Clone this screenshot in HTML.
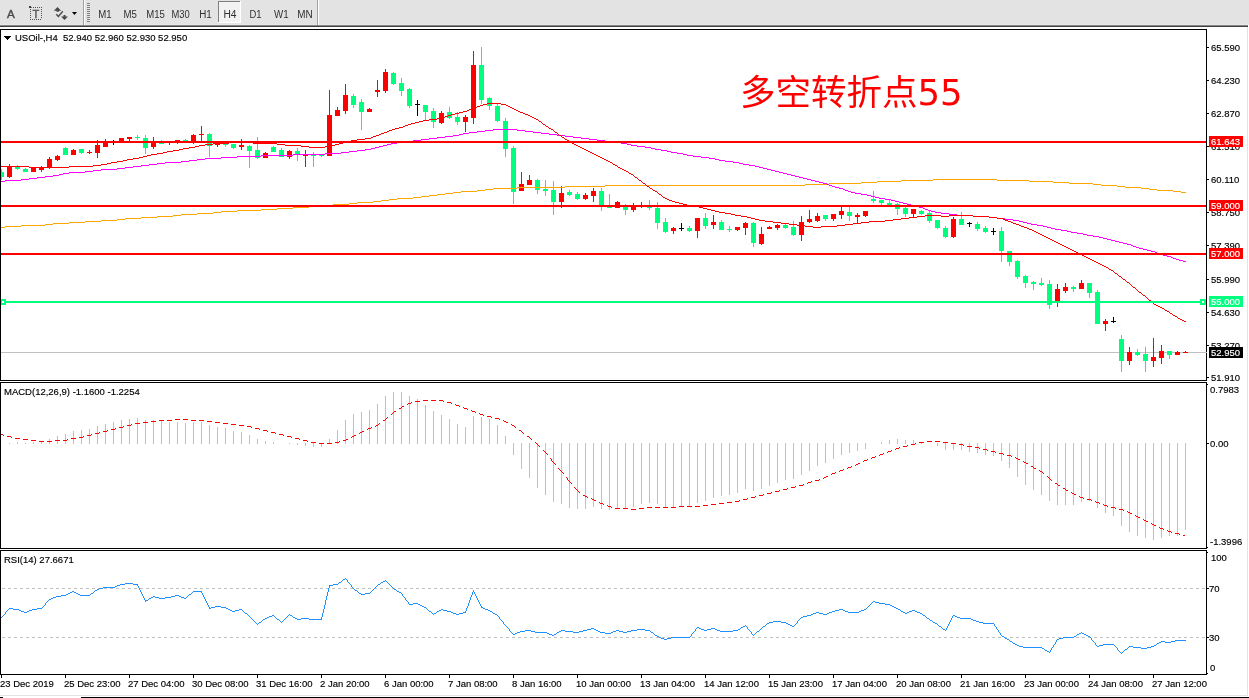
<!DOCTYPE html>
<html><head><meta charset="utf-8"><title>USOil H4</title>
<style>html,body{margin:0;padding:0;background:#fff;}body{width:1249px;height:698px;overflow:hidden;}svg{display:block;font-family:'Liberation Sans', Arial, sans-serif;}</style>
</head><body>
<svg width="1249" height="698" viewBox="0 0 1249 698" shape-rendering="crispEdges">
<rect x="0" y="0" width="1249" height="25" fill="#e3e3e3"/>
<rect x="0" y="24" width="1249" height="1" fill="#e9e9e9"/>
<rect x="0" y="25" width="1248" height="1" fill="#858585"/>
<rect x="0" y="26" width="1248" height="1" fill="#404040"/>
<rect x="83" y="0" width="1" height="25" fill="#a0a0a0"/>
<rect x="84" y="0" width="1" height="25" fill="#ffffff"/>
<rect x="317" y="0" width="1" height="25" fill="#a0a0a0"/>
<rect x="318" y="0" width="1" height="25" fill="#ffffff"/>
<rect x="87" y="3" width="3" height="1" fill="#808080"/>
<rect x="87" y="5" width="3" height="1" fill="#808080"/>
<rect x="87" y="7" width="3" height="1" fill="#808080"/>
<rect x="87" y="9" width="3" height="1" fill="#808080"/>
<rect x="87" y="11" width="3" height="1" fill="#808080"/>
<rect x="87" y="13" width="3" height="1" fill="#808080"/>
<rect x="87" y="15" width="3" height="1" fill="#808080"/>
<rect x="87" y="17" width="3" height="1" fill="#808080"/>
<rect x="87" y="19" width="3" height="1" fill="#808080"/>
<rect x="87" y="21" width="3" height="1" fill="#808080"/>
<rect x="218" y="1" width="23" height="22" fill="#f2f2f2"/>
<rect x="218" y="1" width="22" height="1" fill="#808080"/>
<rect x="218" y="1" width="1" height="22" fill="#808080"/>
<rect x="240" y="1" width="1" height="22" fill="#ffffff"/>
<rect x="218" y="22" width="23" height="1" fill="#ffffff"/>
<text x="7" y="17.8" font-size="11.6" fill="#4a4a4a" text-anchor="start" stroke="#4a4a4a" stroke-width="0.4">A</text>
<rect x="33" y="7" width="1" height="1" fill="#505050"/>
<rect x="35" y="7" width="1" height="1" fill="#505050"/>
<rect x="37" y="7" width="1" height="1" fill="#505050"/>
<rect x="39" y="7" width="1" height="1" fill="#505050"/>
<rect x="41" y="7" width="1" height="1" fill="#505050"/>
<rect x="30" y="19" width="1" height="1" fill="#505050"/>
<rect x="32" y="19" width="1" height="1" fill="#505050"/>
<rect x="34" y="19" width="1" height="1" fill="#505050"/>
<rect x="36" y="19" width="1" height="1" fill="#505050"/>
<rect x="38" y="19" width="1" height="1" fill="#505050"/>
<rect x="40" y="19" width="1" height="1" fill="#505050"/>
<rect x="30" y="9" width="1" height="1" fill="#505050"/>
<rect x="41" y="9" width="1" height="1" fill="#505050"/>
<rect x="30" y="11" width="1" height="1" fill="#505050"/>
<rect x="41" y="11" width="1" height="1" fill="#505050"/>
<rect x="30" y="13" width="1" height="1" fill="#505050"/>
<rect x="41" y="13" width="1" height="1" fill="#505050"/>
<rect x="30" y="15" width="1" height="1" fill="#505050"/>
<rect x="41" y="15" width="1" height="1" fill="#505050"/>
<rect x="30" y="17" width="1" height="1" fill="#505050"/>
<rect x="41" y="17" width="1" height="1" fill="#505050"/>
<rect x="29" y="6" width="2" height="2" fill="#404040"/>
<rect x="31" y="7" width="1" height="1" fill="#707070"/>
<text x="32.4" y="17.9" font-size="11.2" fill="#505050" text-anchor="start" stroke="#505050" stroke-width="0.3">T</text>
<path d="M53.8 10.8 L57.5 7 L61.2 10.8 L59 10.8 L59 11.8 L56.5 11.8 L56.5 10.8 Z" fill="#4a4a4a" shape-rendering="auto"/>
<path d="M56.3 14.2 L58.4 16.5 L62.8 11.3" fill="none" stroke="#4a4a4a" stroke-width="1.4" shape-rendering="auto"/>
<path d="M63.5 15 L65.5 15 L65.5 16.4 L68 16.4 L64.5 20 L61 16.4 L63.5 16.4 Z" fill="#4a4a4a" shape-rendering="auto"/>
<path d="M72 12 L77 12 L74.5 15 Z" fill="#000" shape-rendering="auto"/>
<text x="98.2" y="18" font-size="10" fill="#303030" text-anchor="start" textLength="13.4" lengthAdjust="spacingAndGlyphs">M1</text>
<text x="123.4" y="18" font-size="10" fill="#303030" text-anchor="start" textLength="13.4" lengthAdjust="spacingAndGlyphs">M5</text>
<text x="146.2" y="18" font-size="10" fill="#303030" text-anchor="start" textLength="18.6" lengthAdjust="spacingAndGlyphs">M15</text>
<text x="171.4" y="18" font-size="10" fill="#303030" text-anchor="start" textLength="18.2" lengthAdjust="spacingAndGlyphs">M30</text>
<text x="199.2" y="18" font-size="10" fill="#303030" text-anchor="start" textLength="12.6" lengthAdjust="spacingAndGlyphs">H1</text>
<text x="223.4" y="18" font-size="10" fill="#303030" text-anchor="start" textLength="13.1" lengthAdjust="spacingAndGlyphs">H4</text>
<text x="249.5" y="18" font-size="10" fill="#303030" text-anchor="start" textLength="12.1" lengthAdjust="spacingAndGlyphs">D1</text>
<text x="274" y="18" font-size="10" fill="#303030" text-anchor="start" textLength="14.6" lengthAdjust="spacingAndGlyphs">W1</text>
<text x="297.2" y="18" font-size="10" fill="#303030" text-anchor="start" textLength="15.4" lengthAdjust="spacingAndGlyphs">MN</text>
<rect x="0" y="27" width="1248" height="668" fill="#ffffff"/>
<rect x="1247" y="27" width="1" height="668" fill="#e3e3e3"/>
<rect x="0" y="695" width="1248" height="1" fill="#e3e3e3"/>
<rect x="0" y="697" width="3" height="1" fill="#000"/>
<rect x="81" y="697" width="1168" height="1" fill="#000"/>
<defs><clipPath id="cm"><rect x="1" y="30" width="1205" height="350"/></clipPath><clipPath id="cd"><rect x="1" y="383" width="1205" height="165"/></clipPath><clipPath id="cr"><rect x="1" y="551" width="1205" height="123"/></clipPath></defs>
<g clip-path="url(#cm)">
<rect x="1" y="352" width="1205" height="1" fill="#c0c0c0"/>
<rect x="1" y="169" width="1" height="11" fill="#00ff7f"/>
<rect x="-1" y="172" width="5" height="5" fill="#00ff7f"/>
<rect x="9" y="164" width="1" height="14" fill="#ff0000"/>
<rect x="7" y="166" width="5" height="11" fill="#ff0000"/>
<rect x="17" y="165" width="1" height="5" fill="#00ff7f"/>
<rect x="15" y="167" width="5" height="2" fill="#00ff7f"/>
<rect x="25" y="168" width="1" height="4" fill="#00ff7f"/>
<rect x="23" y="169" width="5" height="3" fill="#00ff7f"/>
<rect x="33" y="167" width="1" height="5" fill="#ff0000"/>
<rect x="31" y="167" width="5" height="5" fill="#ff0000"/>
<rect x="41" y="166" width="1" height="6" fill="#ff0000"/>
<rect x="39" y="168" width="5" height="2" fill="#ff0000"/>
<rect x="49" y="157" width="1" height="12" fill="#ff0000"/>
<rect x="47" y="159" width="5" height="8" fill="#ff0000"/>
<rect x="57" y="155" width="1" height="6" fill="#ff0000"/>
<rect x="55" y="156" width="5" height="4" fill="#ff0000"/>
<rect x="65" y="147" width="1" height="8" fill="#00ff7f"/>
<rect x="63" y="148" width="5" height="7" fill="#00ff7f"/>
<rect x="73" y="149" width="1" height="6" fill="#ff0000"/>
<rect x="71" y="150" width="5" height="5" fill="#ff0000"/>
<rect x="81" y="149" width="1" height="5" fill="#00ff7f"/>
<rect x="79" y="149" width="5" height="4" fill="#00ff7f"/>
<rect x="89" y="150" width="1" height="4" fill="#ff0000"/>
<rect x="87" y="152" width="5" height="1" fill="#ff0000"/>
<rect x="97" y="140" width="1" height="18" fill="#ff0000"/>
<rect x="95" y="145" width="5" height="8" fill="#ff0000"/>
<rect x="105" y="139" width="1" height="8" fill="#ff0000"/>
<rect x="103" y="142" width="5" height="5" fill="#ff0000"/>
<rect x="113" y="140" width="1" height="5" fill="#000"/>
<rect x="111" y="142" width="5" height="1" fill="#000"/>
<rect x="121" y="138" width="1" height="4" fill="#ff0000"/>
<rect x="119" y="138" width="5" height="4" fill="#ff0000"/>
<rect x="129" y="137" width="1" height="4" fill="#ff0000"/>
<rect x="127" y="137" width="5" height="2" fill="#ff0000"/>
<rect x="137" y="135" width="1" height="5" fill="#00ff7f"/>
<rect x="135" y="137" width="5" height="1" fill="#00ff7f"/>
<rect x="145" y="135" width="1" height="19" fill="#00ff7f"/>
<rect x="143" y="138" width="5" height="10" fill="#00ff7f"/>
<rect x="153" y="137" width="1" height="12" fill="#ff0000"/>
<rect x="151" y="142" width="5" height="5" fill="#ff0000"/>
<rect x="161" y="140" width="1" height="4" fill="#00ff7f"/>
<rect x="159" y="143" width="5" height="1" fill="#00ff7f"/>
<rect x="169" y="141" width="1" height="4" fill="#ff0000"/>
<rect x="167" y="141" width="5" height="2" fill="#ff0000"/>
<rect x="177" y="140" width="1" height="4" fill="#ff0000"/>
<rect x="175" y="140" width="5" height="2" fill="#ff0000"/>
<rect x="185" y="139" width="1" height="2" fill="#00ff7f"/>
<rect x="183" y="140" width="5" height="1" fill="#00ff7f"/>
<rect x="193" y="134" width="1" height="10" fill="#ff0000"/>
<rect x="191" y="135" width="5" height="7" fill="#ff0000"/>
<rect x="201" y="126" width="1" height="15" fill="#ff0000"/>
<rect x="199" y="134" width="5" height="1" fill="#ff0000"/>
<rect x="209" y="133" width="1" height="24" fill="#00ff7f"/>
<rect x="207" y="134" width="5" height="12" fill="#00ff7f"/>
<rect x="217" y="141" width="1" height="6" fill="#ff0000"/>
<rect x="215" y="141" width="5" height="4" fill="#ff0000"/>
<rect x="225" y="144" width="1" height="3" fill="#00ff7f"/>
<rect x="223" y="144" width="5" height="1" fill="#00ff7f"/>
<rect x="233" y="144" width="1" height="5" fill="#00ff7f"/>
<rect x="231" y="144" width="5" height="4" fill="#00ff7f"/>
<rect x="241" y="139" width="1" height="11" fill="#ff0000"/>
<rect x="239" y="145" width="5" height="2" fill="#ff0000"/>
<rect x="249" y="145" width="1" height="23" fill="#00ff7f"/>
<rect x="247" y="146" width="5" height="5" fill="#00ff7f"/>
<rect x="257" y="137" width="1" height="22" fill="#00ff7f"/>
<rect x="255" y="150" width="5" height="8" fill="#00ff7f"/>
<rect x="265" y="152" width="1" height="6" fill="#ff0000"/>
<rect x="263" y="153" width="5" height="5" fill="#ff0000"/>
<rect x="273" y="146" width="1" height="6" fill="#00ff7f"/>
<rect x="271" y="147" width="5" height="5" fill="#00ff7f"/>
<rect x="281" y="148" width="1" height="9" fill="#00ff7f"/>
<rect x="279" y="150" width="5" height="7" fill="#00ff7f"/>
<rect x="289" y="150" width="1" height="9" fill="#ff0000"/>
<rect x="287" y="151" width="5" height="6" fill="#ff0000"/>
<rect x="297" y="148" width="1" height="13" fill="#00ff7f"/>
<rect x="295" y="151" width="5" height="4" fill="#00ff7f"/>
<rect x="305" y="150" width="1" height="17" fill="#ff0000"/>
<rect x="303" y="154" width="5" height="2" fill="#ff0000"/>
<rect x="313" y="152" width="1" height="15" fill="#00ff7f"/>
<rect x="311" y="154" width="5" height="2" fill="#00ff7f"/>
<rect x="321" y="155" width="1" height="2" fill="#00ff7f"/>
<rect x="319" y="155" width="5" height="1" fill="#00ff7f"/>
<rect x="329" y="90" width="1" height="66" fill="#ff0000"/>
<rect x="327" y="115" width="5" height="41" fill="#ff0000"/>
<rect x="337" y="107" width="1" height="9" fill="#ff0000"/>
<rect x="335" y="110" width="5" height="6" fill="#ff0000"/>
<rect x="345" y="84" width="1" height="30" fill="#ff0000"/>
<rect x="343" y="95" width="5" height="16" fill="#ff0000"/>
<rect x="353" y="94" width="1" height="14" fill="#00ff7f"/>
<rect x="351" y="96" width="5" height="9" fill="#00ff7f"/>
<rect x="361" y="99" width="1" height="31" fill="#00ff7f"/>
<rect x="359" y="102" width="5" height="10" fill="#00ff7f"/>
<rect x="369" y="108" width="1" height="4" fill="#ff0000"/>
<rect x="367" y="109" width="5" height="3" fill="#ff0000"/>
<rect x="377" y="80" width="1" height="17" fill="#ff0000"/>
<rect x="375" y="90" width="5" height="2" fill="#ff0000"/>
<rect x="385" y="69" width="1" height="24" fill="#ff0000"/>
<rect x="383" y="72" width="5" height="19" fill="#ff0000"/>
<rect x="393" y="72" width="1" height="13" fill="#00ff7f"/>
<rect x="391" y="73" width="5" height="11" fill="#00ff7f"/>
<rect x="401" y="78" width="1" height="18" fill="#00ff7f"/>
<rect x="399" y="83" width="5" height="8" fill="#00ff7f"/>
<rect x="409" y="88" width="1" height="20" fill="#00ff7f"/>
<rect x="407" y="89" width="5" height="17" fill="#00ff7f"/>
<rect x="417" y="100" width="1" height="16" fill="#000"/>
<rect x="415" y="104" width="5" height="1" fill="#000"/>
<rect x="425" y="105" width="1" height="15" fill="#00ff7f"/>
<rect x="423" y="105" width="5" height="7" fill="#00ff7f"/>
<rect x="433" y="108" width="1" height="20" fill="#00ff7f"/>
<rect x="431" y="111" width="5" height="11" fill="#00ff7f"/>
<rect x="441" y="111" width="1" height="13" fill="#ff0000"/>
<rect x="439" y="113" width="5" height="10" fill="#ff0000"/>
<rect x="449" y="107" width="1" height="12" fill="#00ff7f"/>
<rect x="447" y="112" width="5" height="6" fill="#00ff7f"/>
<rect x="457" y="112" width="1" height="13" fill="#00ff7f"/>
<rect x="455" y="117" width="5" height="5" fill="#00ff7f"/>
<rect x="465" y="115" width="1" height="17" fill="#ff0000"/>
<rect x="463" y="117" width="5" height="5" fill="#ff0000"/>
<rect x="473" y="51" width="1" height="73" fill="#ff0000"/>
<rect x="471" y="65" width="5" height="53" fill="#ff0000"/>
<rect x="481" y="47" width="1" height="57" fill="#00ff7f"/>
<rect x="479" y="65" width="5" height="35" fill="#00ff7f"/>
<rect x="489" y="97" width="1" height="13" fill="#00ff7f"/>
<rect x="487" y="98" width="5" height="8" fill="#00ff7f"/>
<rect x="497" y="104" width="1" height="18" fill="#00ff7f"/>
<rect x="495" y="106" width="5" height="15" fill="#00ff7f"/>
<rect x="505" y="118" width="1" height="39" fill="#00ff7f"/>
<rect x="503" y="121" width="5" height="28" fill="#00ff7f"/>
<rect x="513" y="146" width="1" height="58" fill="#00ff7f"/>
<rect x="511" y="148" width="5" height="44" fill="#00ff7f"/>
<rect x="521" y="172" width="1" height="19" fill="#ff0000"/>
<rect x="519" y="184" width="5" height="7" fill="#ff0000"/>
<rect x="529" y="175" width="1" height="10" fill="#ff0000"/>
<rect x="527" y="180" width="5" height="5" fill="#ff0000"/>
<rect x="537" y="179" width="1" height="15" fill="#00ff7f"/>
<rect x="535" y="180" width="5" height="10" fill="#00ff7f"/>
<rect x="545" y="180" width="1" height="16" fill="#00ff7f"/>
<rect x="543" y="189" width="5" height="2" fill="#00ff7f"/>
<rect x="553" y="181" width="1" height="34" fill="#00ff7f"/>
<rect x="551" y="190" width="5" height="12" fill="#00ff7f"/>
<rect x="561" y="186" width="1" height="22" fill="#ff0000"/>
<rect x="559" y="193" width="5" height="9" fill="#ff0000"/>
<rect x="569" y="190" width="1" height="6" fill="#00ff7f"/>
<rect x="567" y="192" width="5" height="3" fill="#00ff7f"/>
<rect x="577" y="192" width="1" height="8" fill="#00ff7f"/>
<rect x="575" y="194" width="5" height="5" fill="#00ff7f"/>
<rect x="585" y="193" width="1" height="7" fill="#ff0000"/>
<rect x="583" y="195" width="5" height="4" fill="#ff0000"/>
<rect x="593" y="188" width="1" height="14" fill="#ff0000"/>
<rect x="591" y="191" width="5" height="5" fill="#ff0000"/>
<rect x="601" y="188" width="1" height="23" fill="#00ff7f"/>
<rect x="599" y="191" width="5" height="14" fill="#00ff7f"/>
<rect x="609" y="194" width="1" height="14" fill="#00ff7f"/>
<rect x="607" y="205" width="5" height="3" fill="#00ff7f"/>
<rect x="617" y="201" width="1" height="7" fill="#ff0000"/>
<rect x="615" y="202" width="5" height="6" fill="#ff0000"/>
<rect x="625" y="204" width="1" height="11" fill="#00ff7f"/>
<rect x="623" y="207" width="5" height="3" fill="#00ff7f"/>
<rect x="633" y="203" width="1" height="9" fill="#ff0000"/>
<rect x="631" y="206" width="5" height="4" fill="#ff0000"/>
<rect x="641" y="202" width="1" height="6" fill="#ff0000"/>
<rect x="639" y="206" width="5" height="1" fill="#ff0000"/>
<rect x="649" y="200" width="1" height="10" fill="#00ff7f"/>
<rect x="647" y="206" width="5" height="2" fill="#00ff7f"/>
<rect x="657" y="202" width="1" height="27" fill="#00ff7f"/>
<rect x="655" y="208" width="5" height="15" fill="#00ff7f"/>
<rect x="665" y="218" width="1" height="15" fill="#00ff7f"/>
<rect x="663" y="222" width="5" height="10" fill="#00ff7f"/>
<rect x="673" y="227" width="1" height="7" fill="#ff0000"/>
<rect x="671" y="228" width="5" height="3" fill="#ff0000"/>
<rect x="681" y="223" width="1" height="8" fill="#000"/>
<rect x="679" y="228" width="5" height="1" fill="#000"/>
<rect x="689" y="226" width="1" height="6" fill="#00ff7f"/>
<rect x="687" y="228" width="5" height="3" fill="#00ff7f"/>
<rect x="697" y="218" width="1" height="20" fill="#ff0000"/>
<rect x="695" y="218" width="5" height="13" fill="#ff0000"/>
<rect x="705" y="213" width="1" height="16" fill="#00ff7f"/>
<rect x="703" y="218" width="5" height="8" fill="#00ff7f"/>
<rect x="713" y="215" width="1" height="14" fill="#ff0000"/>
<rect x="711" y="222" width="5" height="3" fill="#ff0000"/>
<rect x="721" y="220" width="1" height="10" fill="#00ff7f"/>
<rect x="719" y="222" width="5" height="8" fill="#00ff7f"/>
<rect x="729" y="226" width="1" height="6" fill="#00ff7f"/>
<rect x="727" y="229" width="5" height="1" fill="#00ff7f"/>
<rect x="737" y="227" width="1" height="4" fill="#ff0000"/>
<rect x="735" y="227" width="5" height="3" fill="#ff0000"/>
<rect x="745" y="222" width="1" height="13" fill="#ff0000"/>
<rect x="743" y="223" width="5" height="5" fill="#ff0000"/>
<rect x="753" y="222" width="1" height="25" fill="#00ff7f"/>
<rect x="751" y="223" width="5" height="20" fill="#00ff7f"/>
<rect x="761" y="227" width="1" height="18" fill="#ff0000"/>
<rect x="759" y="234" width="5" height="10" fill="#ff0000"/>
<rect x="769" y="226" width="1" height="3" fill="#ff0000"/>
<rect x="767" y="227" width="5" height="2" fill="#ff0000"/>
<rect x="777" y="224" width="1" height="6" fill="#ff0000"/>
<rect x="775" y="225" width="5" height="3" fill="#ff0000"/>
<rect x="785" y="224" width="1" height="5" fill="#00ff7f"/>
<rect x="783" y="225" width="5" height="3" fill="#00ff7f"/>
<rect x="793" y="221" width="1" height="15" fill="#00ff7f"/>
<rect x="791" y="227" width="5" height="8" fill="#00ff7f"/>
<rect x="801" y="216" width="1" height="25" fill="#ff0000"/>
<rect x="799" y="222" width="5" height="13" fill="#ff0000"/>
<rect x="809" y="210" width="1" height="13" fill="#ff0000"/>
<rect x="807" y="219" width="5" height="3" fill="#ff0000"/>
<rect x="817" y="213" width="1" height="9" fill="#ff0000"/>
<rect x="815" y="216" width="5" height="5" fill="#ff0000"/>
<rect x="825" y="215" width="1" height="6" fill="#00ff7f"/>
<rect x="823" y="215" width="5" height="4" fill="#00ff7f"/>
<rect x="833" y="214" width="1" height="7" fill="#ff0000"/>
<rect x="831" y="214" width="5" height="5" fill="#ff0000"/>
<rect x="841" y="207" width="1" height="12" fill="#ff0000"/>
<rect x="839" y="211" width="5" height="4" fill="#ff0000"/>
<rect x="849" y="207" width="1" height="14" fill="#00ff7f"/>
<rect x="847" y="212" width="5" height="4" fill="#00ff7f"/>
<rect x="857" y="213" width="1" height="10" fill="#ff0000"/>
<rect x="855" y="215" width="5" height="2" fill="#ff0000"/>
<rect x="865" y="211" width="1" height="6" fill="#ff0000"/>
<rect x="863" y="211" width="5" height="5" fill="#ff0000"/>
<rect x="873" y="191" width="1" height="12" fill="#00ff7f"/>
<rect x="871" y="199" width="5" height="2" fill="#00ff7f"/>
<rect x="881" y="200" width="1" height="5" fill="#00ff7f"/>
<rect x="879" y="200" width="5" height="3" fill="#00ff7f"/>
<rect x="889" y="200" width="1" height="5" fill="#00ff7f"/>
<rect x="887" y="203" width="5" height="2" fill="#00ff7f"/>
<rect x="897" y="203" width="1" height="12" fill="#00ff7f"/>
<rect x="895" y="204" width="5" height="5" fill="#00ff7f"/>
<rect x="905" y="207" width="1" height="10" fill="#00ff7f"/>
<rect x="903" y="208" width="5" height="6" fill="#00ff7f"/>
<rect x="913" y="209" width="1" height="9" fill="#ff0000"/>
<rect x="911" y="209" width="5" height="5" fill="#ff0000"/>
<rect x="921" y="210" width="1" height="5" fill="#00ff7f"/>
<rect x="919" y="211" width="5" height="3" fill="#00ff7f"/>
<rect x="929" y="211" width="1" height="12" fill="#00ff7f"/>
<rect x="927" y="213" width="5" height="8" fill="#00ff7f"/>
<rect x="937" y="220" width="1" height="9" fill="#00ff7f"/>
<rect x="935" y="220" width="5" height="8" fill="#00ff7f"/>
<rect x="945" y="226" width="1" height="12" fill="#00ff7f"/>
<rect x="943" y="228" width="5" height="9" fill="#00ff7f"/>
<rect x="953" y="217" width="1" height="21" fill="#ff0000"/>
<rect x="951" y="219" width="5" height="18" fill="#ff0000"/>
<rect x="961" y="212" width="1" height="13" fill="#00ff7f"/>
<rect x="959" y="219" width="5" height="6" fill="#00ff7f"/>
<rect x="969" y="222" width="1" height="5" fill="#000"/>
<rect x="967" y="223" width="5" height="1" fill="#000"/>
<rect x="977" y="222" width="1" height="9" fill="#00ff7f"/>
<rect x="975" y="224" width="5" height="5" fill="#00ff7f"/>
<rect x="985" y="226" width="1" height="7" fill="#00ff7f"/>
<rect x="983" y="228" width="5" height="4" fill="#00ff7f"/>
<rect x="993" y="228" width="1" height="7" fill="#000"/>
<rect x="991" y="231" width="5" height="1" fill="#000"/>
<rect x="1001" y="227" width="1" height="35" fill="#00ff7f"/>
<rect x="999" y="231" width="5" height="20" fill="#00ff7f"/>
<rect x="1009" y="251" width="1" height="15" fill="#00ff7f"/>
<rect x="1007" y="251" width="5" height="11" fill="#00ff7f"/>
<rect x="1017" y="260" width="1" height="19" fill="#00ff7f"/>
<rect x="1015" y="261" width="5" height="16" fill="#00ff7f"/>
<rect x="1025" y="275" width="1" height="13" fill="#00ff7f"/>
<rect x="1023" y="276" width="5" height="7" fill="#00ff7f"/>
<rect x="1033" y="281" width="1" height="9" fill="#00ff7f"/>
<rect x="1031" y="282" width="5" height="2" fill="#00ff7f"/>
<rect x="1041" y="278" width="1" height="8" fill="#00ff7f"/>
<rect x="1039" y="283" width="5" height="2" fill="#00ff7f"/>
<rect x="1049" y="280" width="1" height="29" fill="#00ff7f"/>
<rect x="1047" y="284" width="5" height="21" fill="#00ff7f"/>
<rect x="1057" y="284" width="1" height="23" fill="#ff0000"/>
<rect x="1055" y="289" width="5" height="12" fill="#ff0000"/>
<rect x="1065" y="283" width="1" height="10" fill="#ff0000"/>
<rect x="1063" y="287" width="5" height="4" fill="#ff0000"/>
<rect x="1073" y="286" width="1" height="6" fill="#00ff7f"/>
<rect x="1071" y="287" width="5" height="2" fill="#00ff7f"/>
<rect x="1081" y="280" width="1" height="9" fill="#ff0000"/>
<rect x="1079" y="283" width="5" height="6" fill="#ff0000"/>
<rect x="1089" y="283" width="1" height="15" fill="#00ff7f"/>
<rect x="1087" y="283" width="5" height="10" fill="#00ff7f"/>
<rect x="1097" y="290" width="1" height="34" fill="#00ff7f"/>
<rect x="1095" y="292" width="5" height="32" fill="#00ff7f"/>
<rect x="1105" y="319" width="1" height="12" fill="#ff0000"/>
<rect x="1103" y="321" width="5" height="3" fill="#ff0000"/>
<rect x="1113" y="317" width="1" height="6" fill="#000"/>
<rect x="1111" y="321" width="5" height="1" fill="#000"/>
<rect x="1121" y="335" width="1" height="37" fill="#00ff7f"/>
<rect x="1119" y="339" width="5" height="22" fill="#00ff7f"/>
<rect x="1129" y="347" width="1" height="18" fill="#ff0000"/>
<rect x="1127" y="352" width="5" height="9" fill="#ff0000"/>
<rect x="1137" y="349" width="1" height="7" fill="#00ff7f"/>
<rect x="1135" y="352" width="5" height="3" fill="#00ff7f"/>
<rect x="1145" y="347" width="1" height="25" fill="#00ff7f"/>
<rect x="1143" y="354" width="5" height="7" fill="#00ff7f"/>
<rect x="1153" y="338" width="1" height="29" fill="#ff0000"/>
<rect x="1151" y="357" width="5" height="4" fill="#ff0000"/>
<rect x="1161" y="345" width="1" height="19" fill="#ff0000"/>
<rect x="1159" y="351" width="5" height="7" fill="#ff0000"/>
<rect x="1169" y="351" width="1" height="8" fill="#00ff7f"/>
<rect x="1167" y="351" width="5" height="4" fill="#00ff7f"/>
<rect x="1177" y="351" width="1" height="4" fill="#ff0000"/>
<rect x="1175" y="352" width="5" height="3" fill="#ff0000"/>
<rect x="1185" y="351" width="1" height="2" fill="#ff0000"/>
<rect x="1183" y="352" width="5" height="1" fill="#ff0000"/>
<rect x="157" y="216" width="16" height="1" fill="#ffa500"/>
<rect x="477" y="190" width="8" height="1" fill="#ffa500"/>
<rect x="1157" y="190" width="16" height="1" fill="#ffa500"/>
<rect x="461" y="191" width="16" height="1" fill="#ffa500"/>
<rect x="1173" y="191" width="8" height="1" fill="#ffa500"/>
<rect x="197" y="213" width="16" height="1" fill="#ffa500"/>
<rect x="829" y="183" width="32" height="1" fill="#ffa500"/>
<rect x="1069" y="183" width="24" height="1" fill="#ffa500"/>
<rect x="237" y="210" width="24" height="1" fill="#ffa500"/>
<rect x="117" y="219" width="8" height="1" fill="#ffa500"/>
<rect x="605" y="185" width="200" height="1" fill="#ffa500"/>
<rect x="1101" y="185" width="16" height="1" fill="#ffa500"/>
<rect x="933" y="179" width="64" height="1" fill="#ffa500"/>
<rect x="69" y="222" width="16" height="1" fill="#ffa500"/>
<rect x="221" y="211" width="16" height="1" fill="#ffa500"/>
<rect x="901" y="180" width="32" height="1" fill="#ffa500"/>
<rect x="997" y="180" width="32" height="1" fill="#ffa500"/>
<rect x="485" y="189" width="8" height="1" fill="#ffa500"/>
<rect x="1149" y="189" width="8" height="1" fill="#ffa500"/>
<rect x="21" y="225" width="24" height="1" fill="#ffa500"/>
<rect x="181" y="214" width="16" height="1" fill="#ffa500"/>
<rect x="861" y="182" width="16" height="1" fill="#ffa500"/>
<rect x="1053" y="182" width="16" height="1" fill="#ffa500"/>
<rect x="53" y="223" width="16" height="1" fill="#ffa500"/>
<rect x="517" y="187" width="48" height="1" fill="#ffa500"/>
<rect x="1125" y="187" width="16" height="1" fill="#ffa500"/>
<rect x="877" y="181" width="24" height="1" fill="#ffa500"/>
<rect x="1029" y="181" width="24" height="1" fill="#ffa500"/>
<rect x="309" y="206" width="16" height="1" fill="#ffa500"/>
<rect x="5" y="226" width="16" height="1" fill="#ffa500"/>
<rect x="261" y="209" width="16" height="1" fill="#ffa500"/>
<rect x="421" y="196" width="8" height="1" fill="#ffa500"/>
<rect x="125" y="218" width="16" height="1" fill="#ffa500"/>
<rect x="565" y="186" width="40" height="1" fill="#ffa500"/>
<rect x="1117" y="186" width="8" height="1" fill="#ffa500"/>
<rect x="85" y="221" width="16" height="1" fill="#ffa500"/>
<rect x="805" y="184" width="24" height="1" fill="#ffa500"/>
<rect x="1093" y="184" width="8" height="1" fill="#ffa500"/>
<rect x="413" y="197" width="8" height="1" fill="#ffa500"/>
<rect x="381" y="200" width="8" height="1" fill="#ffa500"/>
<rect x="397" y="198" width="16" height="1" fill="#ffa500"/>
<rect x="493" y="188" width="24" height="1" fill="#ffa500"/>
<rect x="1141" y="188" width="8" height="1" fill="#ffa500"/>
<rect x="293" y="207" width="16" height="1" fill="#ffa500"/>
<rect x="389" y="199" width="8" height="1" fill="#ffa500"/>
<rect x="325" y="205" width="8" height="1" fill="#ffa500"/>
<rect x="357" y="202" width="16" height="1" fill="#ffa500"/>
<rect x="277" y="208" width="16" height="1" fill="#ffa500"/>
<rect x="429" y="195" width="8" height="1" fill="#ffa500"/>
<rect x="141" y="217" width="16" height="1" fill="#ffa500"/>
<rect x="101" y="220" width="16" height="1" fill="#ffa500"/>
<rect x="333" y="204" width="16" height="1" fill="#ffa500"/>
<rect x="437" y="194" width="8" height="1" fill="#ffa500"/>
<rect x="373" y="201" width="8" height="1" fill="#ffa500"/>
<rect x="349" y="203" width="8" height="1" fill="#ffa500"/>
<rect x="213" y="212" width="8" height="1" fill="#ffa500"/>
<rect x="173" y="215" width="8" height="1" fill="#ffa500"/>
<rect x="445" y="193" width="8" height="1" fill="#ffa500"/>
<rect x="45" y="224" width="8" height="1" fill="#ffa500"/>
<rect x="453" y="192" width="8" height="1" fill="#ffa500"/>
<rect x="1181" y="192" width="5" height="1" fill="#ffa500"/>
<rect x="1" y="227" width="4" height="1" fill="#ffa500"/>
<rect x="261" y="155" width="32" height="1" fill="#ff00ff"/>
<rect x="687" y="155" width="6" height="1" fill="#ff00ff"/>
<rect x="197" y="159" width="8" height="1" fill="#ff00ff"/>
<rect x="715" y="159" width="4" height="1" fill="#ff00ff"/>
<rect x="835" y="187" width="4" height="1" fill="#ff00ff"/>
<rect x="1" y="181" width="4" height="1" fill="#ff00ff"/>
<rect x="815" y="181" width="4" height="1" fill="#ff00ff"/>
<rect x="37" y="177" width="8" height="1" fill="#ff00ff"/>
<rect x="799" y="177" width="4" height="1" fill="#ff00ff"/>
<rect x="1005" y="219" width="8" height="1" fill="#ff00ff"/>
<rect x="325" y="153" width="16" height="1" fill="#ff00ff"/>
<rect x="677" y="153" width="6" height="1" fill="#ff00ff"/>
<rect x="5" y="180" width="16" height="1" fill="#ff00ff"/>
<rect x="811" y="180" width="4" height="1" fill="#ff00ff"/>
<rect x="405" y="141" width="8" height="1" fill="#ff00ff"/>
<rect x="605" y="141" width="8" height="1" fill="#ff00ff"/>
<rect x="357" y="150" width="8" height="1" fill="#ff00ff"/>
<rect x="661" y="150" width="6" height="1" fill="#ff00ff"/>
<rect x="1167" y="256" width="4" height="1" fill="#ff00ff"/>
<rect x="379" y="146" width="4" height="1" fill="#ff00ff"/>
<rect x="637" y="146" width="8" height="1" fill="#ff00ff"/>
<rect x="221" y="157" width="16" height="1" fill="#ff00ff"/>
<rect x="701" y="157" width="8" height="1" fill="#ff00ff"/>
<rect x="117" y="168" width="8" height="1" fill="#ff00ff"/>
<rect x="763" y="168" width="4" height="1" fill="#ff00ff"/>
<rect x="413" y="140" width="8" height="1" fill="#ff00ff"/>
<rect x="597" y="140" width="8" height="1" fill="#ff00ff"/>
<rect x="237" y="156" width="24" height="1" fill="#ff00ff"/>
<rect x="693" y="156" width="8" height="1" fill="#ff00ff"/>
<rect x="493" y="129" width="24" height="1" fill="#ff00ff"/>
<rect x="341" y="152" width="8" height="1" fill="#ff00ff"/>
<rect x="671" y="152" width="6" height="1" fill="#ff00ff"/>
<rect x="165" y="162" width="16" height="1" fill="#ff00ff"/>
<rect x="733" y="162" width="6" height="1" fill="#ff00ff"/>
<rect x="149" y="164" width="8" height="1" fill="#ff00ff"/>
<rect x="743" y="164" width="6" height="1" fill="#ff00ff"/>
<rect x="59" y="174" width="4" height="1" fill="#ff00ff"/>
<rect x="787" y="174" width="4" height="1" fill="#ff00ff"/>
<rect x="85" y="171" width="8" height="1" fill="#ff00ff"/>
<rect x="775" y="171" width="4" height="1" fill="#ff00ff"/>
<rect x="205" y="158" width="16" height="1" fill="#ff00ff"/>
<rect x="709" y="158" width="6" height="1" fill="#ff00ff"/>
<rect x="911" y="205" width="4" height="1" fill="#ff00ff"/>
<rect x="957" y="215" width="16" height="1" fill="#ff00ff"/>
<rect x="989" y="217" width="8" height="1" fill="#ff00ff"/>
<rect x="1171" y="257" width="2" height="1" fill="#ff00ff"/>
<rect x="1143" y="249" width="4" height="1" fill="#ff00ff"/>
<rect x="391" y="143" width="6" height="1" fill="#ff00ff"/>
<rect x="621" y="143" width="6" height="1" fill="#ff00ff"/>
<rect x="485" y="130" width="8" height="1" fill="#ff00ff"/>
<rect x="517" y="130" width="8" height="1" fill="#ff00ff"/>
<rect x="69" y="172" width="16" height="1" fill="#ff00ff"/>
<rect x="779" y="172" width="4" height="1" fill="#ff00ff"/>
<rect x="375" y="147" width="4" height="1" fill="#ff00ff"/>
<rect x="645" y="147" width="6" height="1" fill="#ff00ff"/>
<rect x="141" y="165" width="8" height="1" fill="#ff00ff"/>
<rect x="749" y="165" width="6" height="1" fill="#ff00ff"/>
<rect x="445" y="136" width="8" height="1" fill="#ff00ff"/>
<rect x="565" y="136" width="8" height="1" fill="#ff00ff"/>
<rect x="101" y="169" width="16" height="1" fill="#ff00ff"/>
<rect x="767" y="169" width="4" height="1" fill="#ff00ff"/>
<rect x="469" y="132" width="8" height="1" fill="#ff00ff"/>
<rect x="533" y="132" width="8" height="1" fill="#ff00ff"/>
<rect x="973" y="216" width="16" height="1" fill="#ff00ff"/>
<rect x="845" y="190" width="3" height="1" fill="#ff00ff"/>
<rect x="63" y="173" width="6" height="1" fill="#ff00ff"/>
<rect x="783" y="173" width="4" height="1" fill="#ff00ff"/>
<rect x="915" y="206" width="4" height="1" fill="#ff00ff"/>
<rect x="1061" y="230" width="6" height="1" fill="#ff00ff"/>
<rect x="1031" y="224" width="6" height="1" fill="#ff00ff"/>
<rect x="293" y="154" width="32" height="1" fill="#ff00ff"/>
<rect x="683" y="154" width="4" height="1" fill="#ff00ff"/>
<rect x="157" y="163" width="8" height="1" fill="#ff00ff"/>
<rect x="739" y="163" width="4" height="1" fill="#ff00ff"/>
<rect x="1093" y="236" width="6" height="1" fill="#ff00ff"/>
<rect x="437" y="137" width="8" height="1" fill="#ff00ff"/>
<rect x="573" y="137" width="8" height="1" fill="#ff00ff"/>
<rect x="189" y="160" width="8" height="1" fill="#ff00ff"/>
<rect x="719" y="160" width="6" height="1" fill="#ff00ff"/>
<rect x="387" y="144" width="4" height="1" fill="#ff00ff"/>
<rect x="627" y="144" width="4" height="1" fill="#ff00ff"/>
<rect x="463" y="133" width="6" height="1" fill="#ff00ff"/>
<rect x="541" y="133" width="8" height="1" fill="#ff00ff"/>
<rect x="365" y="149" width="6" height="1" fill="#ff00ff"/>
<rect x="655" y="149" width="6" height="1" fill="#ff00ff"/>
<rect x="1115" y="241" width="4" height="1" fill="#ff00ff"/>
<rect x="429" y="138" width="8" height="1" fill="#ff00ff"/>
<rect x="581" y="138" width="8" height="1" fill="#ff00ff"/>
<rect x="855" y="193" width="6" height="1" fill="#ff00ff"/>
<rect x="1067" y="231" width="4" height="1" fill="#ff00ff"/>
<rect x="453" y="135" width="6" height="1" fill="#ff00ff"/>
<rect x="557" y="135" width="8" height="1" fill="#ff00ff"/>
<rect x="125" y="167" width="8" height="1" fill="#ff00ff"/>
<rect x="759" y="167" width="4" height="1" fill="#ff00ff"/>
<rect x="1087" y="235" width="6" height="1" fill="#ff00ff"/>
<rect x="1173" y="258" width="3" height="1" fill="#ff00ff"/>
<rect x="93" y="170" width="8" height="1" fill="#ff00ff"/>
<rect x="771" y="170" width="4" height="1" fill="#ff00ff"/>
<rect x="459" y="134" width="4" height="1" fill="#ff00ff"/>
<rect x="549" y="134" width="8" height="1" fill="#ff00ff"/>
<rect x="879" y="198" width="6" height="1" fill="#ff00ff"/>
<rect x="839" y="188" width="4" height="1" fill="#ff00ff"/>
<rect x="29" y="178" width="8" height="1" fill="#ff00ff"/>
<rect x="803" y="178" width="4" height="1" fill="#ff00ff"/>
<rect x="891" y="200" width="4" height="1" fill="#ff00ff"/>
<rect x="421" y="139" width="8" height="1" fill="#ff00ff"/>
<rect x="589" y="139" width="8" height="1" fill="#ff00ff"/>
<rect x="1119" y="242" width="4" height="1" fill="#ff00ff"/>
<rect x="1176" y="259" width="3" height="1" fill="#ff00ff"/>
<rect x="1047" y="227" width="4" height="1" fill="#ff00ff"/>
<rect x="928" y="210" width="3" height="1" fill="#ff00ff"/>
<rect x="935" y="212" width="6" height="1" fill="#ff00ff"/>
<rect x="133" y="166" width="8" height="1" fill="#ff00ff"/>
<rect x="755" y="166" width="4" height="1" fill="#ff00ff"/>
<rect x="45" y="176" width="8" height="1" fill="#ff00ff"/>
<rect x="795" y="176" width="4" height="1" fill="#ff00ff"/>
<rect x="349" y="151" width="8" height="1" fill="#ff00ff"/>
<rect x="667" y="151" width="4" height="1" fill="#ff00ff"/>
<rect x="919" y="207" width="4" height="1" fill="#ff00ff"/>
<rect x="1013" y="220" width="6" height="1" fill="#ff00ff"/>
<rect x="941" y="213" width="8" height="1" fill="#ff00ff"/>
<rect x="181" y="161" width="8" height="1" fill="#ff00ff"/>
<rect x="725" y="161" width="8" height="1" fill="#ff00ff"/>
<rect x="1151" y="251" width="4" height="1" fill="#ff00ff"/>
<rect x="1123" y="243" width="4" height="1" fill="#ff00ff"/>
<rect x="383" y="145" width="4" height="1" fill="#ff00ff"/>
<rect x="631" y="145" width="6" height="1" fill="#ff00ff"/>
<rect x="477" y="131" width="8" height="1" fill="#ff00ff"/>
<rect x="525" y="131" width="8" height="1" fill="#ff00ff"/>
<rect x="861" y="194" width="6" height="1" fill="#ff00ff"/>
<rect x="949" y="214" width="8" height="1" fill="#ff00ff"/>
<rect x="923" y="208" width="2" height="1" fill="#ff00ff"/>
<rect x="1051" y="228" width="4" height="1" fill="#ff00ff"/>
<rect x="925" y="209" width="3" height="1" fill="#ff00ff"/>
<rect x="885" y="199" width="6" height="1" fill="#ff00ff"/>
<rect x="867" y="195" width="4" height="1" fill="#ff00ff"/>
<rect x="895" y="201" width="4" height="1" fill="#ff00ff"/>
<rect x="848" y="191" width="3" height="1" fill="#ff00ff"/>
<rect x="1055" y="229" width="6" height="1" fill="#ff00ff"/>
<rect x="1179" y="260" width="4" height="1" fill="#ff00ff"/>
<rect x="1107" y="239" width="4" height="1" fill="#ff00ff"/>
<rect x="899" y="202" width="4" height="1" fill="#ff00ff"/>
<rect x="1183" y="261" width="3" height="1" fill="#ff00ff"/>
<rect x="1037" y="225" width="6" height="1" fill="#ff00ff"/>
<rect x="1019" y="221" width="4" height="1" fill="#ff00ff"/>
<rect x="1099" y="237" width="4" height="1" fill="#ff00ff"/>
<rect x="397" y="142" width="8" height="1" fill="#ff00ff"/>
<rect x="613" y="142" width="8" height="1" fill="#ff00ff"/>
<rect x="1103" y="238" width="4" height="1" fill="#ff00ff"/>
<rect x="931" y="211" width="4" height="1" fill="#ff00ff"/>
<rect x="1157" y="253" width="3" height="1" fill="#ff00ff"/>
<rect x="371" y="148" width="4" height="1" fill="#ff00ff"/>
<rect x="651" y="148" width="4" height="1" fill="#ff00ff"/>
<rect x="871" y="196" width="4" height="1" fill="#ff00ff"/>
<rect x="851" y="192" width="4" height="1" fill="#ff00ff"/>
<rect x="903" y="203" width="4" height="1" fill="#ff00ff"/>
<rect x="1071" y="232" width="6" height="1" fill="#ff00ff"/>
<rect x="827" y="184" width="2" height="1" fill="#ff00ff"/>
<rect x="907" y="204" width="4" height="1" fill="#ff00ff"/>
<rect x="1023" y="222" width="4" height="1" fill="#ff00ff"/>
<rect x="1127" y="244" width="4" height="1" fill="#ff00ff"/>
<rect x="829" y="185" width="3" height="1" fill="#ff00ff"/>
<rect x="1131" y="245" width="2" height="1" fill="#ff00ff"/>
<rect x="819" y="182" width="4" height="1" fill="#ff00ff"/>
<rect x="1111" y="240" width="4" height="1" fill="#ff00ff"/>
<rect x="823" y="183" width="4" height="1" fill="#ff00ff"/>
<rect x="53" y="175" width="6" height="1" fill="#ff00ff"/>
<rect x="791" y="175" width="4" height="1" fill="#ff00ff"/>
<rect x="1139" y="248" width="4" height="1" fill="#ff00ff"/>
<rect x="1160" y="254" width="3" height="1" fill="#ff00ff"/>
<rect x="21" y="179" width="8" height="1" fill="#ff00ff"/>
<rect x="807" y="179" width="4" height="1" fill="#ff00ff"/>
<rect x="1043" y="226" width="4" height="1" fill="#ff00ff"/>
<rect x="1133" y="246" width="3" height="1" fill="#ff00ff"/>
<rect x="1077" y="233" width="6" height="1" fill="#ff00ff"/>
<rect x="1136" y="247" width="3" height="1" fill="#ff00ff"/>
<rect x="997" y="218" width="8" height="1" fill="#ff00ff"/>
<rect x="1163" y="255" width="4" height="1" fill="#ff00ff"/>
<rect x="1027" y="223" width="4" height="1" fill="#ff00ff"/>
<rect x="1083" y="234" width="4" height="1" fill="#ff00ff"/>
<rect x="875" y="197" width="4" height="1" fill="#ff00ff"/>
<rect x="1147" y="250" width="4" height="1" fill="#ff00ff"/>
<rect x="843" y="189" width="2" height="1" fill="#ff00ff"/>
<rect x="1155" y="252" width="2" height="1" fill="#ff00ff"/>
<rect x="832" y="186" width="3" height="1" fill="#ff00ff"/>
<rect x="357" y="139" width="8" height="1" fill="#ff0000"/>
<rect x="565" y="139" width="2" height="1" fill="#ff0000"/>
<rect x="483" y="104" width="4" height="1" fill="#ff0000"/>
<rect x="501" y="104" width="5" height="1" fill="#ff0000"/>
<rect x="725" y="213" width="6" height="1" fill="#ff0000"/>
<rect x="205" y="144" width="8" height="1" fill="#ff0000"/>
<rect x="277" y="144" width="8" height="1" fill="#ff0000"/>
<rect x="335" y="144" width="4" height="1" fill="#ff0000"/>
<rect x="574" y="144" width="2" height="1" fill="#ff0000"/>
<rect x="707" y="209" width="4" height="1" fill="#ff0000"/>
<rect x="167" y="151" width="6" height="1" fill="#ff0000"/>
<rect x="588" y="151" width="2" height="1" fill="#ff0000"/>
<rect x="797" y="225" width="8" height="1" fill="#ff0000"/>
<rect x="837" y="225" width="8" height="1" fill="#ff0000"/>
<rect x="1019" y="225" width="2" height="1" fill="#ff0000"/>
<rect x="133" y="158" width="6" height="1" fill="#ff0000"/>
<rect x="602" y="158" width="2" height="1" fill="#ff0000"/>
<rect x="789" y="224" width="8" height="1" fill="#ff0000"/>
<rect x="845" y="224" width="8" height="1" fill="#ff0000"/>
<rect x="1016" y="224" width="3" height="1" fill="#ff0000"/>
<rect x="429" y="119" width="8" height="1" fill="#ff0000"/>
<rect x="536" y="119" width="2" height="1" fill="#ff0000"/>
<rect x="448" y="115" width="3" height="1" fill="#ff0000"/>
<rect x="528" y="115" width="2" height="1" fill="#ff0000"/>
<rect x="747" y="217" width="4" height="1" fill="#ff0000"/>
<rect x="909" y="217" width="8" height="1" fill="#ff0000"/>
<rect x="989" y="217" width="8" height="1" fill="#ff0000"/>
<rect x="189" y="147" width="6" height="1" fill="#ff0000"/>
<rect x="309" y="147" width="16" height="1" fill="#ff0000"/>
<rect x="580" y="147" width="2" height="1" fill="#ff0000"/>
<rect x="467" y="110" width="2" height="1" fill="#ff0000"/>
<rect x="516" y="110" width="2" height="1" fill="#ff0000"/>
<rect x="641" y="181" width="1" height="1" fill="#ff0000"/>
<rect x="381" y="133" width="3" height="1" fill="#ff0000"/>
<rect x="557" y="133" width="1" height="1" fill="#ff0000"/>
<rect x="1" y="166" width="28" height="1" fill="#ff0000"/>
<rect x="69" y="166" width="24" height="1" fill="#ff0000"/>
<rect x="617" y="166" width="1" height="1" fill="#ff0000"/>
<rect x="669" y="200" width="3" height="1" fill="#ff0000"/>
<rect x="392" y="129" width="3" height="1" fill="#ff0000"/>
<rect x="551" y="129" width="2" height="1" fill="#ff0000"/>
<rect x="29" y="167" width="40" height="1" fill="#ff0000"/>
<rect x="618" y="167" width="2" height="1" fill="#ff0000"/>
<rect x="765" y="221" width="8" height="1" fill="#ff0000"/>
<rect x="869" y="221" width="16" height="1" fill="#ff0000"/>
<rect x="1008" y="221" width="3" height="1" fill="#ff0000"/>
<rect x="459" y="112" width="4" height="1" fill="#ff0000"/>
<rect x="520" y="112" width="3" height="1" fill="#ff0000"/>
<rect x="735" y="215" width="6" height="1" fill="#ff0000"/>
<rect x="925" y="215" width="16" height="1" fill="#ff0000"/>
<rect x="949" y="215" width="24" height="1" fill="#ff0000"/>
<rect x="477" y="106" width="3" height="1" fill="#ff0000"/>
<rect x="508" y="106" width="2" height="1" fill="#ff0000"/>
<rect x="472" y="108" width="3" height="1" fill="#ff0000"/>
<rect x="512" y="108" width="2" height="1" fill="#ff0000"/>
<rect x="455" y="113" width="4" height="1" fill="#ff0000"/>
<rect x="523" y="113" width="2" height="1" fill="#ff0000"/>
<rect x="437" y="118" width="6" height="1" fill="#ff0000"/>
<rect x="534" y="118" width="2" height="1" fill="#ff0000"/>
<rect x="773" y="222" width="8" height="1" fill="#ff0000"/>
<rect x="861" y="222" width="8" height="1" fill="#ff0000"/>
<rect x="1011" y="222" width="2" height="1" fill="#ff0000"/>
<rect x="229" y="142" width="24" height="1" fill="#ff0000"/>
<rect x="343" y="142" width="4" height="1" fill="#ff0000"/>
<rect x="570" y="142" width="2" height="1" fill="#ff0000"/>
<rect x="755" y="219" width="4" height="1" fill="#ff0000"/>
<rect x="893" y="219" width="8" height="1" fill="#ff0000"/>
<rect x="1003" y="219" width="2" height="1" fill="#ff0000"/>
<rect x="741" y="216" width="6" height="1" fill="#ff0000"/>
<rect x="917" y="216" width="8" height="1" fill="#ff0000"/>
<rect x="941" y="216" width="8" height="1" fill="#ff0000"/>
<rect x="973" y="216" width="16" height="1" fill="#ff0000"/>
<rect x="469" y="109" width="3" height="1" fill="#ff0000"/>
<rect x="514" y="109" width="2" height="1" fill="#ff0000"/>
<rect x="143" y="156" width="4" height="1" fill="#ff0000"/>
<rect x="598" y="156" width="2" height="1" fill="#ff0000"/>
<rect x="199" y="145" width="6" height="1" fill="#ff0000"/>
<rect x="285" y="145" width="16" height="1" fill="#ff0000"/>
<rect x="331" y="145" width="4" height="1" fill="#ff0000"/>
<rect x="576" y="145" width="2" height="1" fill="#ff0000"/>
<rect x="487" y="103" width="14" height="1" fill="#ff0000"/>
<rect x="101" y="164" width="6" height="1" fill="#ff0000"/>
<rect x="613" y="164" width="2" height="1" fill="#ff0000"/>
<rect x="719" y="212" width="6" height="1" fill="#ff0000"/>
<rect x="365" y="138" width="6" height="1" fill="#ff0000"/>
<rect x="564" y="138" width="1" height="1" fill="#ff0000"/>
<rect x="731" y="214" width="4" height="1" fill="#ff0000"/>
<rect x="1184" y="321" width="2" height="1" fill="#ff0000"/>
<rect x="111" y="162" width="6" height="1" fill="#ff0000"/>
<rect x="610" y="162" width="2" height="1" fill="#ff0000"/>
<rect x="759" y="220" width="6" height="1" fill="#ff0000"/>
<rect x="885" y="220" width="8" height="1" fill="#ff0000"/>
<rect x="1005" y="220" width="3" height="1" fill="#ff0000"/>
<rect x="173" y="150" width="6" height="1" fill="#ff0000"/>
<rect x="586" y="150" width="2" height="1" fill="#ff0000"/>
<rect x="195" y="146" width="4" height="1" fill="#ff0000"/>
<rect x="301" y="146" width="8" height="1" fill="#ff0000"/>
<rect x="325" y="146" width="6" height="1" fill="#ff0000"/>
<rect x="578" y="146" width="2" height="1" fill="#ff0000"/>
<rect x="659" y="194" width="2" height="1" fill="#ff0000"/>
<rect x="781" y="223" width="8" height="1" fill="#ff0000"/>
<rect x="853" y="223" width="8" height="1" fill="#ff0000"/>
<rect x="1013" y="223" width="3" height="1" fill="#ff0000"/>
<rect x="399" y="127" width="4" height="1" fill="#ff0000"/>
<rect x="548" y="127" width="1" height="1" fill="#ff0000"/>
<rect x="1098" y="263" width="2" height="1" fill="#ff0000"/>
<rect x="805" y="226" width="8" height="1" fill="#ff0000"/>
<rect x="821" y="226" width="16" height="1" fill="#ff0000"/>
<rect x="1021" y="226" width="3" height="1" fill="#ff0000"/>
<rect x="1127" y="282" width="2" height="1" fill="#ff0000"/>
<rect x="1178" y="318" width="2" height="1" fill="#ff0000"/>
<rect x="107" y="163" width="4" height="1" fill="#ff0000"/>
<rect x="612" y="163" width="1" height="1" fill="#ff0000"/>
<rect x="371" y="137" width="2" height="1" fill="#ff0000"/>
<rect x="562" y="137" width="2" height="1" fill="#ff0000"/>
<rect x="639" y="180" width="2" height="1" fill="#ff0000"/>
<rect x="351" y="140" width="6" height="1" fill="#ff0000"/>
<rect x="567" y="140" width="2" height="1" fill="#ff0000"/>
<rect x="127" y="159" width="6" height="1" fill="#ff0000"/>
<rect x="604" y="159" width="2" height="1" fill="#ff0000"/>
<rect x="475" y="107" width="2" height="1" fill="#ff0000"/>
<rect x="510" y="107" width="2" height="1" fill="#ff0000"/>
<rect x="1100" y="264" width="2" height="1" fill="#ff0000"/>
<rect x="1180" y="319" width="2" height="1" fill="#ff0000"/>
<rect x="693" y="206" width="6" height="1" fill="#ff0000"/>
<rect x="675" y="202" width="4" height="1" fill="#ff0000"/>
<rect x="123" y="160" width="4" height="1" fill="#ff0000"/>
<rect x="606" y="160" width="2" height="1" fill="#ff0000"/>
<rect x="751" y="218" width="4" height="1" fill="#ff0000"/>
<rect x="901" y="218" width="8" height="1" fill="#ff0000"/>
<rect x="997" y="218" width="6" height="1" fill="#ff0000"/>
<rect x="183" y="148" width="6" height="1" fill="#ff0000"/>
<rect x="582" y="148" width="2" height="1" fill="#ff0000"/>
<rect x="387" y="131" width="2" height="1" fill="#ff0000"/>
<rect x="554" y="131" width="1" height="1" fill="#ff0000"/>
<rect x="715" y="211" width="4" height="1" fill="#ff0000"/>
<rect x="1102" y="265" width="2" height="1" fill="#ff0000"/>
<rect x="1094" y="261" width="2" height="1" fill="#ff0000"/>
<rect x="405" y="125" width="3" height="1" fill="#ff0000"/>
<rect x="545" y="125" width="1" height="1" fill="#ff0000"/>
<rect x="213" y="143" width="16" height="1" fill="#ff0000"/>
<rect x="253" y="143" width="24" height="1" fill="#ff0000"/>
<rect x="339" y="143" width="4" height="1" fill="#ff0000"/>
<rect x="572" y="143" width="2" height="1" fill="#ff0000"/>
<rect x="1182" y="320" width="2" height="1" fill="#ff0000"/>
<rect x="384" y="132" width="3" height="1" fill="#ff0000"/>
<rect x="555" y="132" width="2" height="1" fill="#ff0000"/>
<rect x="1096" y="262" width="2" height="1" fill="#ff0000"/>
<rect x="1104" y="266" width="2" height="1" fill="#ff0000"/>
<rect x="1149" y="300" width="2" height="1" fill="#ff0000"/>
<rect x="93" y="165" width="8" height="1" fill="#ff0000"/>
<rect x="615" y="165" width="2" height="1" fill="#ff0000"/>
<rect x="151" y="154" width="6" height="1" fill="#ff0000"/>
<rect x="594" y="154" width="2" height="1" fill="#ff0000"/>
<rect x="157" y="153" width="6" height="1" fill="#ff0000"/>
<rect x="592" y="153" width="2" height="1" fill="#ff0000"/>
<rect x="1090" y="259" width="2" height="1" fill="#ff0000"/>
<rect x="179" y="149" width="4" height="1" fill="#ff0000"/>
<rect x="584" y="149" width="2" height="1" fill="#ff0000"/>
<rect x="813" y="227" width="8" height="1" fill="#ff0000"/>
<rect x="1024" y="227" width="3" height="1" fill="#ff0000"/>
<rect x="1082" y="255" width="2" height="1" fill="#ff0000"/>
<rect x="415" y="122" width="4" height="1" fill="#ff0000"/>
<rect x="541" y="122" width="1" height="1" fill="#ff0000"/>
<rect x="389" y="130" width="3" height="1" fill="#ff0000"/>
<rect x="553" y="130" width="1" height="1" fill="#ff0000"/>
<rect x="451" y="114" width="4" height="1" fill="#ff0000"/>
<rect x="525" y="114" width="3" height="1" fill="#ff0000"/>
<rect x="463" y="111" width="4" height="1" fill="#ff0000"/>
<rect x="518" y="111" width="2" height="1" fill="#ff0000"/>
<rect x="1074" y="251" width="2" height="1" fill="#ff0000"/>
<rect x="1086" y="257" width="2" height="1" fill="#ff0000"/>
<rect x="139" y="157" width="4" height="1" fill="#ff0000"/>
<rect x="600" y="157" width="2" height="1" fill="#ff0000"/>
<rect x="1078" y="253" width="2" height="1" fill="#ff0000"/>
<rect x="703" y="208" width="4" height="1" fill="#ff0000"/>
<rect x="683" y="204" width="4" height="1" fill="#ff0000"/>
<rect x="423" y="120" width="6" height="1" fill="#ff0000"/>
<rect x="538" y="120" width="1" height="1" fill="#ff0000"/>
<rect x="163" y="152" width="4" height="1" fill="#ff0000"/>
<rect x="590" y="152" width="2" height="1" fill="#ff0000"/>
<rect x="653" y="190" width="2" height="1" fill="#ff0000"/>
<rect x="1172" y="314" width="1" height="1" fill="#ff0000"/>
<rect x="1070" y="249" width="2" height="1" fill="#ff0000"/>
<rect x="1133" y="287" width="2" height="1" fill="#ff0000"/>
<rect x="1062" y="245" width="2" height="1" fill="#ff0000"/>
<rect x="655" y="191" width="2" height="1" fill="#ff0000"/>
<rect x="379" y="134" width="2" height="1" fill="#ff0000"/>
<rect x="558" y="134" width="1" height="1" fill="#ff0000"/>
<rect x="635" y="177" width="2" height="1" fill="#ff0000"/>
<rect x="1167" y="311" width="2" height="1" fill="#ff0000"/>
<rect x="1056" y="242" width="2" height="1" fill="#ff0000"/>
<rect x="445" y="116" width="3" height="1" fill="#ff0000"/>
<rect x="530" y="116" width="2" height="1" fill="#ff0000"/>
<rect x="1175" y="316" width="2" height="1" fill="#ff0000"/>
<rect x="699" y="207" width="4" height="1" fill="#ff0000"/>
<rect x="411" y="123" width="4" height="1" fill="#ff0000"/>
<rect x="542" y="123" width="1" height="1" fill="#ff0000"/>
<rect x="679" y="203" width="4" height="1" fill="#ff0000"/>
<rect x="1119" y="276" width="2" height="1" fill="#ff0000"/>
<rect x="117" y="161" width="6" height="1" fill="#ff0000"/>
<rect x="608" y="161" width="2" height="1" fill="#ff0000"/>
<rect x="395" y="128" width="4" height="1" fill="#ff0000"/>
<rect x="549" y="128" width="2" height="1" fill="#ff0000"/>
<rect x="347" y="141" width="4" height="1" fill="#ff0000"/>
<rect x="569" y="141" width="1" height="1" fill="#ff0000"/>
<rect x="1066" y="247" width="2" height="1" fill="#ff0000"/>
<rect x="1058" y="243" width="2" height="1" fill="#ff0000"/>
<rect x="1050" y="239" width="2" height="1" fill="#ff0000"/>
<rect x="1170" y="313" width="2" height="1" fill="#ff0000"/>
<rect x="1029" y="229" width="3" height="1" fill="#ff0000"/>
<rect x="1060" y="244" width="2" height="1" fill="#ff0000"/>
<rect x="1052" y="240" width="2" height="1" fill="#ff0000"/>
<rect x="1044" y="236" width="2" height="1" fill="#ff0000"/>
<rect x="480" y="105" width="3" height="1" fill="#ff0000"/>
<rect x="506" y="105" width="2" height="1" fill="#ff0000"/>
<rect x="403" y="126" width="2" height="1" fill="#ff0000"/>
<rect x="546" y="126" width="2" height="1" fill="#ff0000"/>
<rect x="1054" y="241" width="2" height="1" fill="#ff0000"/>
<rect x="1145" y="296" width="1" height="1" fill="#ff0000"/>
<rect x="1036" y="232" width="2" height="1" fill="#ff0000"/>
<rect x="631" y="174" width="2" height="1" fill="#ff0000"/>
<rect x="1048" y="238" width="2" height="1" fill="#ff0000"/>
<rect x="1040" y="234" width="2" height="1" fill="#ff0000"/>
<rect x="1032" y="230" width="2" height="1" fill="#ff0000"/>
<rect x="646" y="185" width="1" height="1" fill="#ff0000"/>
<rect x="665" y="198" width="2" height="1" fill="#ff0000"/>
<rect x="373" y="136" width="3" height="1" fill="#ff0000"/>
<rect x="561" y="136" width="1" height="1" fill="#ff0000"/>
<rect x="1115" y="273" width="2" height="1" fill="#ff0000"/>
<rect x="647" y="186" width="2" height="1" fill="#ff0000"/>
<rect x="687" y="205" width="6" height="1" fill="#ff0000"/>
<rect x="628" y="172" width="1" height="1" fill="#ff0000"/>
<rect x="620" y="168" width="2" height="1" fill="#ff0000"/>
<rect x="1129" y="283" width="1" height="1" fill="#ff0000"/>
<rect x="1130" y="284" width="1" height="1" fill="#ff0000"/>
<rect x="1141" y="293" width="1" height="1" fill="#ff0000"/>
<rect x="408" y="124" width="3" height="1" fill="#ff0000"/>
<rect x="543" y="124" width="2" height="1" fill="#ff0000"/>
<rect x="1143" y="295" width="2" height="1" fill="#ff0000"/>
<rect x="1162" y="308" width="2" height="1" fill="#ff0000"/>
<rect x="624" y="170" width="2" height="1" fill="#ff0000"/>
<rect x="1154" y="304" width="2" height="1" fill="#ff0000"/>
<rect x="1164" y="309" width="1" height="1" fill="#ff0000"/>
<rect x="1156" y="305" width="2" height="1" fill="#ff0000"/>
<rect x="672" y="201" width="3" height="1" fill="#ff0000"/>
<rect x="1158" y="306" width="2" height="1" fill="#ff0000"/>
<rect x="626" y="171" width="2" height="1" fill="#ff0000"/>
<rect x="667" y="199" width="2" height="1" fill="#ff0000"/>
<rect x="376" y="135" width="3" height="1" fill="#ff0000"/>
<rect x="559" y="135" width="2" height="1" fill="#ff0000"/>
<rect x="443" y="117" width="2" height="1" fill="#ff0000"/>
<rect x="532" y="117" width="2" height="1" fill="#ff0000"/>
<rect x="147" y="155" width="4" height="1" fill="#ff0000"/>
<rect x="596" y="155" width="2" height="1" fill="#ff0000"/>
<rect x="1109" y="269" width="2" height="1" fill="#ff0000"/>
<rect x="642" y="182" width="1" height="1" fill="#ff0000"/>
<rect x="661" y="195" width="1" height="1" fill="#ff0000"/>
<rect x="1111" y="270" width="2" height="1" fill="#ff0000"/>
<rect x="663" y="197" width="2" height="1" fill="#ff0000"/>
<rect x="1106" y="267" width="2" height="1" fill="#ff0000"/>
<rect x="1125" y="280" width="1" height="1" fill="#ff0000"/>
<rect x="1126" y="281" width="1" height="1" fill="#ff0000"/>
<rect x="711" y="210" width="4" height="1" fill="#ff0000"/>
<rect x="1139" y="292" width="2" height="1" fill="#ff0000"/>
<rect x="1151" y="301" width="1" height="1" fill="#ff0000"/>
<rect x="1092" y="260" width="2" height="1" fill="#ff0000"/>
<rect x="1084" y="256" width="2" height="1" fill="#ff0000"/>
<rect x="1088" y="258" width="2" height="1" fill="#ff0000"/>
<rect x="1123" y="279" width="2" height="1" fill="#ff0000"/>
<rect x="1080" y="254" width="2" height="1" fill="#ff0000"/>
<rect x="1072" y="250" width="2" height="1" fill="#ff0000"/>
<rect x="1136" y="289" width="1" height="1" fill="#ff0000"/>
<rect x="637" y="178" width="1" height="1" fill="#ff0000"/>
<rect x="638" y="179" width="1" height="1" fill="#ff0000"/>
<rect x="1076" y="252" width="2" height="1" fill="#ff0000"/>
<rect x="1068" y="248" width="2" height="1" fill="#ff0000"/>
<rect x="1121" y="277" width="1" height="1" fill="#ff0000"/>
<rect x="1173" y="315" width="2" height="1" fill="#ff0000"/>
<rect x="1135" y="288" width="1" height="1" fill="#ff0000"/>
<rect x="1064" y="246" width="2" height="1" fill="#ff0000"/>
<rect x="1146" y="297" width="1" height="1" fill="#ff0000"/>
<rect x="1046" y="237" width="2" height="1" fill="#ff0000"/>
<rect x="1147" y="298" width="1" height="1" fill="#ff0000"/>
<rect x="1042" y="235" width="2" height="1" fill="#ff0000"/>
<rect x="1034" y="231" width="2" height="1" fill="#ff0000"/>
<rect x="629" y="173" width="2" height="1" fill="#ff0000"/>
<rect x="650" y="188" width="2" height="1" fill="#ff0000"/>
<rect x="1027" y="228" width="2" height="1" fill="#ff0000"/>
<rect x="652" y="189" width="1" height="1" fill="#ff0000"/>
<rect x="633" y="175" width="1" height="1" fill="#ff0000"/>
<rect x="1038" y="233" width="2" height="1" fill="#ff0000"/>
<rect x="1165" y="310" width="2" height="1" fill="#ff0000"/>
<rect x="419" y="121" width="4" height="1" fill="#ff0000"/>
<rect x="539" y="121" width="2" height="1" fill="#ff0000"/>
<rect x="1160" y="307" width="2" height="1" fill="#ff0000"/>
<rect x="1131" y="285" width="1" height="1" fill="#ff0000"/>
<rect x="1142" y="294" width="1" height="1" fill="#ff0000"/>
<rect x="1169" y="312" width="1" height="1" fill="#ff0000"/>
<rect x="1108" y="268" width="1" height="1" fill="#ff0000"/>
<rect x="643" y="183" width="2" height="1" fill="#ff0000"/>
<rect x="662" y="196" width="1" height="1" fill="#ff0000"/>
<rect x="1153" y="303" width="1" height="1" fill="#ff0000"/>
<rect x="1137" y="290" width="1" height="1" fill="#ff0000"/>
<rect x="1138" y="291" width="1" height="1" fill="#ff0000"/>
<rect x="1152" y="302" width="1" height="1" fill="#ff0000"/>
<rect x="658" y="193" width="1" height="1" fill="#ff0000"/>
<rect x="1122" y="278" width="1" height="1" fill="#ff0000"/>
<rect x="657" y="192" width="1" height="1" fill="#ff0000"/>
<rect x="634" y="176" width="1" height="1" fill="#ff0000"/>
<rect x="1117" y="274" width="1" height="1" fill="#ff0000"/>
<rect x="649" y="187" width="1" height="1" fill="#ff0000"/>
<rect x="1148" y="299" width="1" height="1" fill="#ff0000"/>
<rect x="1118" y="275" width="1" height="1" fill="#ff0000"/>
<rect x="1132" y="286" width="1" height="1" fill="#ff0000"/>
<rect x="1177" y="317" width="1" height="1" fill="#ff0000"/>
<rect x="622" y="169" width="2" height="1" fill="#ff0000"/>
<rect x="1113" y="271" width="1" height="1" fill="#ff0000"/>
<rect x="645" y="184" width="1" height="1" fill="#ff0000"/>
<rect x="1114" y="272" width="1" height="1" fill="#ff0000"/>
</g>
<rect x="1" y="141" width="1205" height="2" fill="#ff0000"/>
<rect x="1" y="205" width="1205" height="2" fill="#ff0000"/>
<rect x="1" y="253" width="1205" height="2" fill="#ff0000"/>
<rect x="1" y="301" width="1205" height="2" fill="#00ff7f"/>
<rect x="0" y="299" width="6" height="6" fill="#00ff7f"/>
<rect x="2" y="301" width="2" height="2" fill="#fff"/>
<rect x="1200" y="299" width="6" height="6" fill="#00ff7f"/>
<rect x="1202" y="301" width="2" height="2" fill="#fff"/>
<g clip-path="url(#cd)">
<rect x="9" y="443" width="1" height="1" fill="#c0c0c0"/>
<rect x="17" y="442" width="1" height="2" fill="#c0c0c0"/>
<rect x="25" y="443" width="1" height="1" fill="#c0c0c0"/>
<rect x="33" y="442" width="1" height="2" fill="#c0c0c0"/>
<rect x="41" y="442" width="1" height="2" fill="#c0c0c0"/>
<rect x="49" y="439" width="1" height="5" fill="#c0c0c0"/>
<rect x="57" y="436" width="1" height="8" fill="#c0c0c0"/>
<rect x="65" y="434" width="1" height="10" fill="#c0c0c0"/>
<rect x="73" y="431" width="1" height="13" fill="#c0c0c0"/>
<rect x="81" y="430" width="1" height="14" fill="#c0c0c0"/>
<rect x="89" y="429" width="1" height="15" fill="#c0c0c0"/>
<rect x="97" y="426" width="1" height="18" fill="#c0c0c0"/>
<rect x="105" y="424" width="1" height="20" fill="#c0c0c0"/>
<rect x="113" y="422" width="1" height="22" fill="#c0c0c0"/>
<rect x="121" y="420" width="1" height="24" fill="#c0c0c0"/>
<rect x="129" y="419" width="1" height="25" fill="#c0c0c0"/>
<rect x="137" y="418" width="1" height="26" fill="#c0c0c0"/>
<rect x="145" y="420" width="1" height="24" fill="#c0c0c0"/>
<rect x="153" y="420" width="1" height="24" fill="#c0c0c0"/>
<rect x="161" y="421" width="1" height="23" fill="#c0c0c0"/>
<rect x="169" y="422" width="1" height="22" fill="#c0c0c0"/>
<rect x="177" y="422" width="1" height="22" fill="#c0c0c0"/>
<rect x="185" y="423" width="1" height="21" fill="#c0c0c0"/>
<rect x="193" y="422" width="1" height="22" fill="#c0c0c0"/>
<rect x="201" y="422" width="1" height="22" fill="#c0c0c0"/>
<rect x="209" y="425" width="1" height="19" fill="#c0c0c0"/>
<rect x="217" y="427" width="1" height="17" fill="#c0c0c0"/>
<rect x="225" y="428" width="1" height="16" fill="#c0c0c0"/>
<rect x="233" y="431" width="1" height="13" fill="#c0c0c0"/>
<rect x="241" y="432" width="1" height="12" fill="#c0c0c0"/>
<rect x="249" y="435" width="1" height="9" fill="#c0c0c0"/>
<rect x="257" y="439" width="1" height="5" fill="#c0c0c0"/>
<rect x="265" y="441" width="1" height="3" fill="#c0c0c0"/>
<rect x="273" y="442" width="1" height="2" fill="#c0c0c0"/>
<rect x="289" y="443" width="1" height="1" fill="#c0c0c0"/>
<rect x="297" y="443" width="1" height="2" fill="#c0c0c0"/>
<rect x="305" y="443" width="1" height="3" fill="#c0c0c0"/>
<rect x="313" y="443" width="1" height="4" fill="#c0c0c0"/>
<rect x="321" y="443" width="1" height="4" fill="#c0c0c0"/>
<rect x="329" y="439" width="1" height="5" fill="#c0c0c0"/>
<rect x="337" y="430" width="1" height="14" fill="#c0c0c0"/>
<rect x="345" y="420" width="1" height="24" fill="#c0c0c0"/>
<rect x="353" y="414" width="1" height="30" fill="#c0c0c0"/>
<rect x="361" y="412" width="1" height="32" fill="#c0c0c0"/>
<rect x="369" y="410" width="1" height="34" fill="#c0c0c0"/>
<rect x="377" y="404" width="1" height="40" fill="#c0c0c0"/>
<rect x="385" y="396" width="1" height="48" fill="#c0c0c0"/>
<rect x="393" y="392" width="1" height="52" fill="#c0c0c0"/>
<rect x="401" y="392" width="1" height="52" fill="#c0c0c0"/>
<rect x="409" y="396" width="1" height="48" fill="#c0c0c0"/>
<rect x="417" y="399" width="1" height="45" fill="#c0c0c0"/>
<rect x="425" y="405" width="1" height="39" fill="#c0c0c0"/>
<rect x="433" y="411" width="1" height="33" fill="#c0c0c0"/>
<rect x="441" y="415" width="1" height="29" fill="#c0c0c0"/>
<rect x="449" y="419" width="1" height="25" fill="#c0c0c0"/>
<rect x="457" y="424" width="1" height="20" fill="#c0c0c0"/>
<rect x="465" y="427" width="1" height="17" fill="#c0c0c0"/>
<rect x="473" y="416" width="1" height="28" fill="#c0c0c0"/>
<rect x="481" y="417" width="1" height="27" fill="#c0c0c0"/>
<rect x="489" y="419" width="1" height="25" fill="#c0c0c0"/>
<rect x="497" y="425" width="1" height="19" fill="#c0c0c0"/>
<rect x="505" y="436" width="1" height="8" fill="#c0c0c0"/>
<rect x="513" y="443" width="1" height="12" fill="#c0c0c0"/>
<rect x="521" y="443" width="1" height="26" fill="#c0c0c0"/>
<rect x="529" y="443" width="1" height="35" fill="#c0c0c0"/>
<rect x="537" y="443" width="1" height="45" fill="#c0c0c0"/>
<rect x="545" y="443" width="1" height="52" fill="#c0c0c0"/>
<rect x="553" y="443" width="1" height="59" fill="#c0c0c0"/>
<rect x="561" y="443" width="1" height="61" fill="#c0c0c0"/>
<rect x="569" y="443" width="1" height="65" fill="#c0c0c0"/>
<rect x="577" y="443" width="1" height="66" fill="#c0c0c0"/>
<rect x="585" y="443" width="1" height="66" fill="#c0c0c0"/>
<rect x="593" y="443" width="1" height="64" fill="#c0c0c0"/>
<rect x="601" y="443" width="1" height="66" fill="#c0c0c0"/>
<rect x="609" y="443" width="1" height="67" fill="#c0c0c0"/>
<rect x="617" y="443" width="1" height="65" fill="#c0c0c0"/>
<rect x="625" y="443" width="1" height="65" fill="#c0c0c0"/>
<rect x="633" y="443" width="1" height="64" fill="#c0c0c0"/>
<rect x="641" y="443" width="1" height="61" fill="#c0c0c0"/>
<rect x="649" y="443" width="1" height="60" fill="#c0c0c0"/>
<rect x="657" y="443" width="1" height="61" fill="#c0c0c0"/>
<rect x="665" y="443" width="1" height="65" fill="#c0c0c0"/>
<rect x="673" y="443" width="1" height="65" fill="#c0c0c0"/>
<rect x="681" y="443" width="1" height="64" fill="#c0c0c0"/>
<rect x="689" y="443" width="1" height="63" fill="#c0c0c0"/>
<rect x="697" y="443" width="1" height="60" fill="#c0c0c0"/>
<rect x="705" y="443" width="1" height="58" fill="#c0c0c0"/>
<rect x="713" y="443" width="1" height="55" fill="#c0c0c0"/>
<rect x="721" y="443" width="1" height="53" fill="#c0c0c0"/>
<rect x="729" y="443" width="1" height="52" fill="#c0c0c0"/>
<rect x="737" y="443" width="1" height="50" fill="#c0c0c0"/>
<rect x="745" y="443" width="1" height="46" fill="#c0c0c0"/>
<rect x="753" y="443" width="1" height="48" fill="#c0c0c0"/>
<rect x="761" y="443" width="1" height="46" fill="#c0c0c0"/>
<rect x="769" y="443" width="1" height="43" fill="#c0c0c0"/>
<rect x="777" y="443" width="1" height="40" fill="#c0c0c0"/>
<rect x="785" y="443" width="1" height="37" fill="#c0c0c0"/>
<rect x="793" y="443" width="1" height="36" fill="#c0c0c0"/>
<rect x="801" y="443" width="1" height="32" fill="#c0c0c0"/>
<rect x="809" y="443" width="1" height="28" fill="#c0c0c0"/>
<rect x="817" y="443" width="1" height="23" fill="#c0c0c0"/>
<rect x="825" y="443" width="1" height="20" fill="#c0c0c0"/>
<rect x="833" y="443" width="1" height="16" fill="#c0c0c0"/>
<rect x="841" y="443" width="1" height="12" fill="#c0c0c0"/>
<rect x="849" y="443" width="1" height="10" fill="#c0c0c0"/>
<rect x="857" y="443" width="1" height="8" fill="#c0c0c0"/>
<rect x="865" y="443" width="1" height="6" fill="#c0c0c0"/>
<rect x="881" y="442" width="1" height="2" fill="#c0c0c0"/>
<rect x="889" y="440" width="1" height="4" fill="#c0c0c0"/>
<rect x="897" y="439" width="1" height="5" fill="#c0c0c0"/>
<rect x="905" y="440" width="1" height="4" fill="#c0c0c0"/>
<rect x="913" y="440" width="1" height="4" fill="#c0c0c0"/>
<rect x="921" y="442" width="1" height="2" fill="#c0c0c0"/>
<rect x="937" y="443" width="1" height="3" fill="#c0c0c0"/>
<rect x="945" y="443" width="1" height="7" fill="#c0c0c0"/>
<rect x="953" y="443" width="1" height="7" fill="#c0c0c0"/>
<rect x="961" y="443" width="1" height="7" fill="#c0c0c0"/>
<rect x="969" y="443" width="1" height="9" fill="#c0c0c0"/>
<rect x="977" y="443" width="1" height="10" fill="#c0c0c0"/>
<rect x="985" y="443" width="1" height="12" fill="#c0c0c0"/>
<rect x="993" y="443" width="1" height="13" fill="#c0c0c0"/>
<rect x="1001" y="443" width="1" height="18" fill="#c0c0c0"/>
<rect x="1009" y="443" width="1" height="25" fill="#c0c0c0"/>
<rect x="1017" y="443" width="1" height="34" fill="#c0c0c0"/>
<rect x="1025" y="443" width="1" height="42" fill="#c0c0c0"/>
<rect x="1033" y="443" width="1" height="47" fill="#c0c0c0"/>
<rect x="1041" y="443" width="1" height="52" fill="#c0c0c0"/>
<rect x="1049" y="443" width="1" height="58" fill="#c0c0c0"/>
<rect x="1057" y="443" width="1" height="62" fill="#c0c0c0"/>
<rect x="1065" y="443" width="1" height="62" fill="#c0c0c0"/>
<rect x="1073" y="443" width="1" height="62" fill="#c0c0c0"/>
<rect x="1081" y="443" width="1" height="59" fill="#c0c0c0"/>
<rect x="1089" y="443" width="1" height="58" fill="#c0c0c0"/>
<rect x="1097" y="443" width="1" height="65" fill="#c0c0c0"/>
<rect x="1105" y="443" width="1" height="70" fill="#c0c0c0"/>
<rect x="1113" y="443" width="1" height="73" fill="#c0c0c0"/>
<rect x="1121" y="443" width="1" height="83" fill="#c0c0c0"/>
<rect x="1129" y="443" width="1" height="89" fill="#c0c0c0"/>
<rect x="1137" y="443" width="1" height="93" fill="#c0c0c0"/>
<rect x="1145" y="443" width="1" height="95" fill="#c0c0c0"/>
<rect x="1153" y="443" width="1" height="97" fill="#c0c0c0"/>
<rect x="1161" y="443" width="1" height="95" fill="#c0c0c0"/>
<rect x="1169" y="443" width="1" height="93" fill="#c0c0c0"/>
<rect x="1177" y="443" width="1" height="93" fill="#c0c0c0"/>
<rect x="1185" y="443" width="1" height="87" fill="#c0c0c0"/>
<rect x="563" y="473" width="1" height="1" fill="#ff0000"/>
<rect x="832" y="473" width="3" height="1" fill="#ff0000"/>
<rect x="1043" y="473" width="1" height="1" fill="#ff0000"/>
<rect x="175" y="419" width="5" height="1" fill="#ff0000"/>
<rect x="183" y="419" width="5" height="1" fill="#ff0000"/>
<rect x="385" y="419" width="1" height="1" fill="#ff0000"/>
<rect x="499" y="419" width="1" height="1" fill="#ff0000"/>
<rect x="546" y="453" width="1" height="1" fill="#ff0000"/>
<rect x="883" y="453" width="1" height="1" fill="#ff0000"/>
<rect x="999" y="453" width="4" height="1" fill="#ff0000"/>
<rect x="39" y="441" width="5" height="1" fill="#ff0000"/>
<rect x="47" y="441" width="5" height="1" fill="#ff0000"/>
<rect x="307" y="441" width="1" height="1" fill="#ff0000"/>
<rect x="339" y="441" width="1" height="1" fill="#ff0000"/>
<rect x="927" y="441" width="5" height="1" fill="#ff0000"/>
<rect x="935" y="441" width="5" height="1" fill="#ff0000"/>
<rect x="319" y="443" width="5" height="1" fill="#ff0000"/>
<rect x="327" y="443" width="5" height="1" fill="#ff0000"/>
<rect x="536" y="443" width="1" height="1" fill="#ff0000"/>
<rect x="915" y="443" width="1" height="1" fill="#ff0000"/>
<rect x="951" y="443" width="5" height="1" fill="#ff0000"/>
<rect x="1" y="434" width="2" height="1" fill="#ff0000"/>
<rect x="91" y="434" width="1" height="1" fill="#ff0000"/>
<rect x="279" y="434" width="4" height="1" fill="#ff0000"/>
<rect x="567" y="478" width="1" height="1" fill="#ff0000"/>
<rect x="823" y="478" width="1" height="1" fill="#ff0000"/>
<rect x="1049" y="478" width="1" height="1" fill="#ff0000"/>
<rect x="558" y="468" width="1" height="1" fill="#ff0000"/>
<rect x="847" y="468" width="1" height="1" fill="#ff0000"/>
<rect x="1034" y="468" width="2" height="1" fill="#ff0000"/>
<rect x="159" y="420" width="5" height="1" fill="#ff0000"/>
<rect x="167" y="420" width="5" height="1" fill="#ff0000"/>
<rect x="191" y="420" width="5" height="1" fill="#ff0000"/>
<rect x="199" y="420" width="5" height="1" fill="#ff0000"/>
<rect x="383" y="420" width="2" height="1" fill="#ff0000"/>
<rect x="503" y="420" width="1" height="1" fill="#ff0000"/>
<rect x="311" y="442" width="5" height="1" fill="#ff0000"/>
<rect x="335" y="442" width="4" height="1" fill="#ff0000"/>
<rect x="535" y="442" width="1" height="1" fill="#ff0000"/>
<rect x="919" y="442" width="5" height="1" fill="#ff0000"/>
<rect x="943" y="442" width="5" height="1" fill="#ff0000"/>
<rect x="15" y="438" width="5" height="1" fill="#ff0000"/>
<rect x="71" y="438" width="5" height="1" fill="#ff0000"/>
<rect x="295" y="438" width="4" height="1" fill="#ff0000"/>
<rect x="530" y="438" width="1" height="1" fill="#ff0000"/>
<rect x="7" y="436" width="4" height="1" fill="#ff0000"/>
<rect x="83" y="436" width="1" height="1" fill="#ff0000"/>
<rect x="287" y="436" width="4" height="1" fill="#ff0000"/>
<rect x="352" y="436" width="2" height="1" fill="#ff0000"/>
<rect x="527" y="436" width="2" height="1" fill="#ff0000"/>
<rect x="135" y="423" width="5" height="1" fill="#ff0000"/>
<rect x="223" y="423" width="5" height="1" fill="#ff0000"/>
<rect x="379" y="423" width="1" height="1" fill="#ff0000"/>
<rect x="795" y="486" width="1" height="1" fill="#ff0000"/>
<rect x="115" y="428" width="1" height="1" fill="#ff0000"/>
<rect x="255" y="428" width="4" height="1" fill="#ff0000"/>
<rect x="368" y="428" width="3" height="1" fill="#ff0000"/>
<rect x="578" y="491" width="1" height="1" fill="#ff0000"/>
<rect x="775" y="491" width="4" height="1" fill="#ff0000"/>
<rect x="543" y="450" width="1" height="1" fill="#ff0000"/>
<rect x="891" y="450" width="1" height="1" fill="#ff0000"/>
<rect x="987" y="450" width="1" height="1" fill="#ff0000"/>
<rect x="600" y="503" width="3" height="1" fill="#ff0000"/>
<rect x="719" y="503" width="5" height="1" fill="#ff0000"/>
<rect x="1099" y="503" width="1" height="1" fill="#ff0000"/>
<rect x="608" y="506" width="3" height="1" fill="#ff0000"/>
<rect x="679" y="506" width="5" height="1" fill="#ff0000"/>
<rect x="687" y="506" width="5" height="1" fill="#ff0000"/>
<rect x="695" y="506" width="5" height="1" fill="#ff0000"/>
<rect x="1107" y="506" width="1" height="1" fill="#ff0000"/>
<rect x="551" y="460" width="1" height="1" fill="#ff0000"/>
<rect x="864" y="460" width="3" height="1" fill="#ff0000"/>
<rect x="99" y="432" width="1" height="1" fill="#ff0000"/>
<rect x="271" y="432" width="4" height="1" fill="#ff0000"/>
<rect x="360" y="432" width="2" height="1" fill="#ff0000"/>
<rect x="522" y="432" width="1" height="1" fill="#ff0000"/>
<rect x="423" y="400" width="5" height="1" fill="#ff0000"/>
<rect x="431" y="400" width="5" height="1" fill="#ff0000"/>
<rect x="439" y="400" width="4" height="1" fill="#ff0000"/>
<rect x="799" y="485" width="4" height="1" fill="#ff0000"/>
<rect x="1058" y="485" width="2" height="1" fill="#ff0000"/>
<rect x="851" y="466" width="1" height="1" fill="#ff0000"/>
<rect x="1031" y="466" width="2" height="1" fill="#ff0000"/>
<rect x="11" y="437" width="1" height="1" fill="#ff0000"/>
<rect x="79" y="437" width="4" height="1" fill="#ff0000"/>
<rect x="291" y="437" width="1" height="1" fill="#ff0000"/>
<rect x="351" y="437" width="1" height="1" fill="#ff0000"/>
<rect x="529" y="437" width="1" height="1" fill="#ff0000"/>
<rect x="592" y="499" width="2" height="1" fill="#ff0000"/>
<rect x="743" y="499" width="4" height="1" fill="#ff0000"/>
<rect x="1087" y="499" width="4" height="1" fill="#ff0000"/>
<rect x="567" y="479" width="1" height="1" fill="#ff0000"/>
<rect x="819" y="479" width="1" height="1" fill="#ff0000"/>
<rect x="1050" y="479" width="1" height="1" fill="#ff0000"/>
<rect x="456" y="405" width="3" height="1" fill="#ff0000"/>
<rect x="123" y="426" width="1" height="1" fill="#ff0000"/>
<rect x="247" y="426" width="4" height="1" fill="#ff0000"/>
<rect x="375" y="426" width="1" height="1" fill="#ff0000"/>
<rect x="514" y="426" width="1" height="1" fill="#ff0000"/>
<rect x="607" y="505" width="1" height="1" fill="#ff0000"/>
<rect x="703" y="505" width="5" height="1" fill="#ff0000"/>
<rect x="1104" y="505" width="3" height="1" fill="#ff0000"/>
<rect x="576" y="489" width="1" height="1" fill="#ff0000"/>
<rect x="783" y="489" width="4" height="1" fill="#ff0000"/>
<rect x="1065" y="489" width="1" height="1" fill="#ff0000"/>
<rect x="103" y="431" width="4" height="1" fill="#ff0000"/>
<rect x="267" y="431" width="1" height="1" fill="#ff0000"/>
<rect x="362" y="431" width="2" height="1" fill="#ff0000"/>
<rect x="521" y="431" width="1" height="1" fill="#ff0000"/>
<rect x="151" y="421" width="5" height="1" fill="#ff0000"/>
<rect x="207" y="421" width="5" height="1" fill="#ff0000"/>
<rect x="504" y="421" width="2" height="1" fill="#ff0000"/>
<rect x="550" y="458" width="1" height="1" fill="#ff0000"/>
<rect x="871" y="458" width="1" height="1" fill="#ff0000"/>
<rect x="1016" y="458" width="2" height="1" fill="#ff0000"/>
<rect x="553" y="462" width="1" height="1" fill="#ff0000"/>
<rect x="1024" y="462" width="2" height="1" fill="#ff0000"/>
<rect x="585" y="496" width="2" height="1" fill="#ff0000"/>
<rect x="755" y="496" width="1" height="1" fill="#ff0000"/>
<rect x="1079" y="496" width="1" height="1" fill="#ff0000"/>
<rect x="611" y="507" width="1" height="1" fill="#ff0000"/>
<rect x="647" y="507" width="5" height="1" fill="#ff0000"/>
<rect x="655" y="507" width="5" height="1" fill="#ff0000"/>
<rect x="663" y="507" width="5" height="1" fill="#ff0000"/>
<rect x="671" y="507" width="5" height="1" fill="#ff0000"/>
<rect x="1111" y="507" width="4" height="1" fill="#ff0000"/>
<rect x="402" y="406" width="2" height="1" fill="#ff0000"/>
<rect x="459" y="406" width="1" height="1" fill="#ff0000"/>
<rect x="547" y="454" width="1" height="1" fill="#ff0000"/>
<rect x="880" y="454" width="3" height="1" fill="#ff0000"/>
<rect x="1003" y="454" width="1" height="1" fill="#ff0000"/>
<rect x="587" y="497" width="1" height="1" fill="#ff0000"/>
<rect x="751" y="497" width="4" height="1" fill="#ff0000"/>
<rect x="1080" y="497" width="3" height="1" fill="#ff0000"/>
<rect x="879" y="455" width="1" height="1" fill="#ff0000"/>
<rect x="1007" y="455" width="4" height="1" fill="#ff0000"/>
<rect x="767" y="493" width="4" height="1" fill="#ff0000"/>
<rect x="1072" y="493" width="2" height="1" fill="#ff0000"/>
<rect x="539" y="446" width="1" height="1" fill="#ff0000"/>
<rect x="903" y="446" width="4" height="1" fill="#ff0000"/>
<rect x="967" y="446" width="5" height="1" fill="#ff0000"/>
<rect x="143" y="422" width="5" height="1" fill="#ff0000"/>
<rect x="215" y="422" width="5" height="1" fill="#ff0000"/>
<rect x="506" y="422" width="2" height="1" fill="#ff0000"/>
<rect x="631" y="509" width="5" height="1" fill="#ff0000"/>
<rect x="1119" y="509" width="4" height="1" fill="#ff0000"/>
<rect x="487" y="416" width="4" height="1" fill="#ff0000"/>
<rect x="111" y="429" width="4" height="1" fill="#ff0000"/>
<rect x="259" y="429" width="1" height="1" fill="#ff0000"/>
<rect x="367" y="429" width="1" height="1" fill="#ff0000"/>
<rect x="1175" y="533" width="4" height="1" fill="#ff0000"/>
<rect x="415" y="401" width="5" height="1" fill="#ff0000"/>
<rect x="443" y="401" width="1" height="1" fill="#ff0000"/>
<rect x="591" y="498" width="1" height="1" fill="#ff0000"/>
<rect x="747" y="498" width="1" height="1" fill="#ff0000"/>
<rect x="1083" y="498" width="1" height="1" fill="#ff0000"/>
<rect x="763" y="494" width="1" height="1" fill="#ff0000"/>
<rect x="1074" y="494" width="2" height="1" fill="#ff0000"/>
<rect x="554" y="463" width="1" height="1" fill="#ff0000"/>
<rect x="858" y="463" width="2" height="1" fill="#ff0000"/>
<rect x="1026" y="463" width="2" height="1" fill="#ff0000"/>
<rect x="545" y="452" width="1" height="1" fill="#ff0000"/>
<rect x="887" y="452" width="1" height="1" fill="#ff0000"/>
<rect x="995" y="452" width="1" height="1" fill="#ff0000"/>
<rect x="566" y="477" width="1" height="1" fill="#ff0000"/>
<rect x="824" y="477" width="2" height="1" fill="#ff0000"/>
<rect x="1048" y="477" width="1" height="1" fill="#ff0000"/>
<rect x="895" y="449" width="1" height="1" fill="#ff0000"/>
<rect x="983" y="449" width="4" height="1" fill="#ff0000"/>
<rect x="407" y="404" width="1" height="1" fill="#ff0000"/>
<rect x="455" y="404" width="1" height="1" fill="#ff0000"/>
<rect x="119" y="427" width="4" height="1" fill="#ff0000"/>
<rect x="251" y="427" width="1" height="1" fill="#ff0000"/>
<rect x="371" y="427" width="1" height="1" fill="#ff0000"/>
<rect x="515" y="427" width="1" height="1" fill="#ff0000"/>
<rect x="3" y="435" width="1" height="1" fill="#ff0000"/>
<rect x="87" y="435" width="4" height="1" fill="#ff0000"/>
<rect x="283" y="435" width="1" height="1" fill="#ff0000"/>
<rect x="354" y="435" width="2" height="1" fill="#ff0000"/>
<rect x="31" y="440" width="5" height="1" fill="#ff0000"/>
<rect x="55" y="440" width="5" height="1" fill="#ff0000"/>
<rect x="63" y="440" width="4" height="1" fill="#ff0000"/>
<rect x="303" y="440" width="4" height="1" fill="#ff0000"/>
<rect x="343" y="440" width="3" height="1" fill="#ff0000"/>
<rect x="579" y="492" width="1" height="1" fill="#ff0000"/>
<rect x="771" y="492" width="1" height="1" fill="#ff0000"/>
<rect x="1071" y="492" width="1" height="1" fill="#ff0000"/>
<rect x="552" y="461" width="1" height="1" fill="#ff0000"/>
<rect x="863" y="461" width="1" height="1" fill="#ff0000"/>
<rect x="1023" y="461" width="1" height="1" fill="#ff0000"/>
<rect x="394" y="411" width="2" height="1" fill="#ff0000"/>
<rect x="472" y="411" width="3" height="1" fill="#ff0000"/>
<rect x="896" y="448" width="3" height="1" fill="#ff0000"/>
<rect x="979" y="448" width="1" height="1" fill="#ff0000"/>
<rect x="127" y="425" width="4" height="1" fill="#ff0000"/>
<rect x="239" y="425" width="5" height="1" fill="#ff0000"/>
<rect x="376" y="425" width="2" height="1" fill="#ff0000"/>
<rect x="512" y="425" width="2" height="1" fill="#ff0000"/>
<rect x="615" y="508" width="5" height="1" fill="#ff0000"/>
<rect x="623" y="508" width="5" height="1" fill="#ff0000"/>
<rect x="639" y="508" width="5" height="1" fill="#ff0000"/>
<rect x="1115" y="508" width="1" height="1" fill="#ff0000"/>
<rect x="560" y="470" width="1" height="1" fill="#ff0000"/>
<rect x="840" y="470" width="3" height="1" fill="#ff0000"/>
<rect x="1039" y="470" width="1" height="1" fill="#ff0000"/>
<rect x="23" y="439" width="5" height="1" fill="#ff0000"/>
<rect x="67" y="439" width="1" height="1" fill="#ff0000"/>
<rect x="299" y="439" width="1" height="1" fill="#ff0000"/>
<rect x="346" y="439" width="2" height="1" fill="#ff0000"/>
<rect x="531" y="439" width="1" height="1" fill="#ff0000"/>
<rect x="570" y="482" width="1" height="1" fill="#ff0000"/>
<rect x="808" y="482" width="3" height="1" fill="#ff0000"/>
<rect x="399" y="408" width="2" height="1" fill="#ff0000"/>
<rect x="464" y="408" width="3" height="1" fill="#ff0000"/>
<rect x="386" y="418" width="1" height="1" fill="#ff0000"/>
<rect x="495" y="418" width="4" height="1" fill="#ff0000"/>
<rect x="551" y="459" width="1" height="1" fill="#ff0000"/>
<rect x="867" y="459" width="1" height="1" fill="#ff0000"/>
<rect x="1018" y="459" width="2" height="1" fill="#ff0000"/>
<rect x="1183" y="535" width="2" height="1" fill="#ff0000"/>
<rect x="537" y="444" width="1" height="1" fill="#ff0000"/>
<rect x="911" y="444" width="4" height="1" fill="#ff0000"/>
<rect x="959" y="444" width="4" height="1" fill="#ff0000"/>
<rect x="131" y="424" width="1" height="1" fill="#ff0000"/>
<rect x="231" y="424" width="5" height="1" fill="#ff0000"/>
<rect x="378" y="424" width="1" height="1" fill="#ff0000"/>
<rect x="511" y="424" width="1" height="1" fill="#ff0000"/>
<rect x="555" y="464" width="1" height="1" fill="#ff0000"/>
<rect x="856" y="464" width="2" height="1" fill="#ff0000"/>
<rect x="544" y="451" width="1" height="1" fill="#ff0000"/>
<rect x="888" y="451" width="3" height="1" fill="#ff0000"/>
<rect x="991" y="451" width="4" height="1" fill="#ff0000"/>
<rect x="872" y="457" width="3" height="1" fill="#ff0000"/>
<rect x="1015" y="457" width="1" height="1" fill="#ff0000"/>
<rect x="577" y="490" width="1" height="1" fill="#ff0000"/>
<rect x="779" y="490" width="1" height="1" fill="#ff0000"/>
<rect x="1066" y="490" width="2" height="1" fill="#ff0000"/>
<rect x="559" y="469" width="1" height="1" fill="#ff0000"/>
<rect x="843" y="469" width="1" height="1" fill="#ff0000"/>
<rect x="391" y="414" width="1" height="1" fill="#ff0000"/>
<rect x="480" y="414" width="3" height="1" fill="#ff0000"/>
<rect x="735" y="501" width="4" height="1" fill="#ff0000"/>
<rect x="1095" y="501" width="1" height="1" fill="#ff0000"/>
<rect x="1154" y="525" width="2" height="1" fill="#ff0000"/>
<rect x="1146" y="521" width="2" height="1" fill="#ff0000"/>
<rect x="575" y="488" width="1" height="1" fill="#ff0000"/>
<rect x="787" y="488" width="1" height="1" fill="#ff0000"/>
<rect x="1063" y="488" width="2" height="1" fill="#ff0000"/>
<rect x="107" y="430" width="1" height="1" fill="#ff0000"/>
<rect x="263" y="430" width="4" height="1" fill="#ff0000"/>
<rect x="519" y="430" width="2" height="1" fill="#ff0000"/>
<rect x="603" y="504" width="1" height="1" fill="#ff0000"/>
<rect x="711" y="504" width="5" height="1" fill="#ff0000"/>
<rect x="1103" y="504" width="1" height="1" fill="#ff0000"/>
<rect x="574" y="487" width="1" height="1" fill="#ff0000"/>
<rect x="791" y="487" width="4" height="1" fill="#ff0000"/>
<rect x="1168" y="531" width="3" height="1" fill="#ff0000"/>
<rect x="1138" y="517" width="2" height="1" fill="#ff0000"/>
<rect x="95" y="433" width="4" height="1" fill="#ff0000"/>
<rect x="275" y="433" width="1" height="1" fill="#ff0000"/>
<rect x="359" y="433" width="1" height="1" fill="#ff0000"/>
<rect x="523" y="433" width="1" height="1" fill="#ff0000"/>
<rect x="1130" y="513" width="2" height="1" fill="#ff0000"/>
<rect x="1160" y="528" width="3" height="1" fill="#ff0000"/>
<rect x="1152" y="524" width="2" height="1" fill="#ff0000"/>
<rect x="899" y="447" width="1" height="1" fill="#ff0000"/>
<rect x="975" y="447" width="4" height="1" fill="#ff0000"/>
<rect x="1123" y="510" width="1" height="1" fill="#ff0000"/>
<rect x="569" y="481" width="1" height="1" fill="#ff0000"/>
<rect x="811" y="481" width="1" height="1" fill="#ff0000"/>
<rect x="599" y="502" width="1" height="1" fill="#ff0000"/>
<rect x="727" y="502" width="5" height="1" fill="#ff0000"/>
<rect x="1096" y="502" width="3" height="1" fill="#ff0000"/>
<rect x="561" y="471" width="1" height="1" fill="#ff0000"/>
<rect x="839" y="471" width="1" height="1" fill="#ff0000"/>
<rect x="1040" y="471" width="2" height="1" fill="#ff0000"/>
<rect x="568" y="480" width="1" height="1" fill="#ff0000"/>
<rect x="815" y="480" width="4" height="1" fill="#ff0000"/>
<rect x="1051" y="480" width="1" height="1" fill="#ff0000"/>
<rect x="411" y="402" width="1" height="1" fill="#ff0000"/>
<rect x="447" y="402" width="4" height="1" fill="#ff0000"/>
<rect x="848" y="467" width="3" height="1" fill="#ff0000"/>
<rect x="1033" y="467" width="1" height="1" fill="#ff0000"/>
<rect x="387" y="417" width="1" height="1" fill="#ff0000"/>
<rect x="491" y="417" width="1" height="1" fill="#ff0000"/>
<rect x="594" y="500" width="2" height="1" fill="#ff0000"/>
<rect x="739" y="500" width="1" height="1" fill="#ff0000"/>
<rect x="1091" y="500" width="1" height="1" fill="#ff0000"/>
<rect x="1179" y="534" width="1" height="1" fill="#ff0000"/>
<rect x="583" y="495" width="2" height="1" fill="#ff0000"/>
<rect x="759" y="495" width="4" height="1" fill="#ff0000"/>
<rect x="803" y="484" width="1" height="1" fill="#ff0000"/>
<rect x="1057" y="484" width="1" height="1" fill="#ff0000"/>
<rect x="467" y="409" width="1" height="1" fill="#ff0000"/>
<rect x="401" y="407" width="1" height="1" fill="#ff0000"/>
<rect x="463" y="407" width="1" height="1" fill="#ff0000"/>
<rect x="826" y="476" width="2" height="1" fill="#ff0000"/>
<rect x="1047" y="476" width="1" height="1" fill="#ff0000"/>
<rect x="471" y="410" width="1" height="1" fill="#ff0000"/>
<rect x="538" y="445" width="1" height="1" fill="#ff0000"/>
<rect x="907" y="445" width="1" height="1" fill="#ff0000"/>
<rect x="963" y="445" width="1" height="1" fill="#ff0000"/>
<rect x="408" y="403" width="3" height="1" fill="#ff0000"/>
<rect x="451" y="403" width="1" height="1" fill="#ff0000"/>
<rect x="571" y="483" width="1" height="1" fill="#ff0000"/>
<rect x="807" y="483" width="1" height="1" fill="#ff0000"/>
<rect x="1055" y="483" width="2" height="1" fill="#ff0000"/>
<rect x="1159" y="527" width="1" height="1" fill="#ff0000"/>
<rect x="1151" y="523" width="1" height="1" fill="#ff0000"/>
<rect x="1143" y="519" width="1" height="1" fill="#ff0000"/>
<rect x="1136" y="516" width="2" height="1" fill="#ff0000"/>
<rect x="562" y="472" width="1" height="1" fill="#ff0000"/>
<rect x="835" y="472" width="1" height="1" fill="#ff0000"/>
<rect x="1042" y="472" width="1" height="1" fill="#ff0000"/>
<rect x="1135" y="515" width="1" height="1" fill="#ff0000"/>
<rect x="1127" y="511" width="1" height="1" fill="#ff0000"/>
<rect x="1128" y="512" width="2" height="1" fill="#ff0000"/>
<rect x="855" y="465" width="1" height="1" fill="#ff0000"/>
<rect x="393" y="412" width="1" height="1" fill="#ff0000"/>
<rect x="475" y="412" width="1" height="1" fill="#ff0000"/>
<rect x="875" y="456" width="1" height="1" fill="#ff0000"/>
<rect x="1011" y="456" width="1" height="1" fill="#ff0000"/>
<rect x="831" y="474" width="1" height="1" fill="#ff0000"/>
<rect x="1163" y="529" width="1" height="1" fill="#ff0000"/>
<rect x="483" y="415" width="1" height="1" fill="#ff0000"/>
<rect x="1144" y="520" width="2" height="1" fill="#ff0000"/>
<rect x="392" y="413" width="1" height="1" fill="#ff0000"/>
<rect x="479" y="413" width="1" height="1" fill="#ff0000"/>
<rect x="1167" y="530" width="1" height="1" fill="#ff0000"/>
<rect x="1171" y="532" width="1" height="1" fill="#ff0000"/>
</g>
<g clip-path="url(#cr)">
<line x1="2" y1="588.5" x2="1206" y2="588.5" stroke="#c0c0c0" stroke-width="1" stroke-dasharray="3 3"/>
<line x1="2" y1="637.5" x2="1206" y2="637.5" stroke="#c0c0c0" stroke-width="1" stroke-dasharray="3 3"/>
<rect x="1015" y="644" width="2" height="1" fill="#1e90ff"/>
<rect x="1054" y="644" width="1" height="1" fill="#1e90ff"/>
<rect x="1095" y="644" width="1" height="1" fill="#1e90ff"/>
<rect x="1103" y="644" width="11" height="1" fill="#1e90ff"/>
<rect x="1156" y="644" width="1" height="1" fill="#1e90ff"/>
<rect x="254" y="621" width="1" height="1" fill="#1e90ff"/>
<rect x="261" y="621" width="1" height="1" fill="#1e90ff"/>
<rect x="280" y="621" width="1" height="1" fill="#1e90ff"/>
<rect x="282" y="621" width="1" height="1" fill="#1e90ff"/>
<rect x="502" y="621" width="1" height="1" fill="#1e90ff"/>
<rect x="773" y="621" width="8" height="1" fill="#1e90ff"/>
<rect x="797" y="621" width="1" height="1" fill="#1e90ff"/>
<rect x="932" y="621" width="1" height="1" fill="#1e90ff"/>
<rect x="950" y="621" width="1" height="1" fill="#1e90ff"/>
<rect x="976" y="621" width="3" height="1" fill="#1e90ff"/>
<rect x="70" y="592" width="2" height="1" fill="#1e90ff"/>
<rect x="74" y="592" width="2" height="1" fill="#1e90ff"/>
<rect x="93" y="592" width="1" height="1" fill="#1e90ff"/>
<rect x="141" y="592" width="1" height="1" fill="#1e90ff"/>
<rect x="192" y="592" width="1" height="1" fill="#1e90ff"/>
<rect x="201" y="592" width="1" height="1" fill="#1e90ff"/>
<rect x="327" y="592" width="1" height="1" fill="#1e90ff"/>
<rect x="358" y="592" width="1" height="1" fill="#1e90ff"/>
<rect x="370" y="592" width="1" height="1" fill="#1e90ff"/>
<rect x="399" y="592" width="2" height="1" fill="#1e90ff"/>
<rect x="472" y="592" width="1" height="1" fill="#1e90ff"/>
<rect x="474" y="592" width="1" height="1" fill="#1e90ff"/>
<rect x="509" y="629" width="1" height="1" fill="#1e90ff"/>
<rect x="587" y="629" width="4" height="1" fill="#1e90ff"/>
<rect x="594" y="629" width="2" height="1" fill="#1e90ff"/>
<rect x="637" y="629" width="8" height="1" fill="#1e90ff"/>
<rect x="695" y="629" width="1" height="1" fill="#1e90ff"/>
<rect x="701" y="629" width="3" height="1" fill="#1e90ff"/>
<rect x="707" y="629" width="4" height="1" fill="#1e90ff"/>
<rect x="715" y="629" width="2" height="1" fill="#1e90ff"/>
<rect x="738" y="629" width="2" height="1" fill="#1e90ff"/>
<rect x="748" y="629" width="1" height="1" fill="#1e90ff"/>
<rect x="760" y="629" width="1" height="1" fill="#1e90ff"/>
<rect x="943" y="629" width="2" height="1" fill="#1e90ff"/>
<rect x="946" y="629" width="1" height="1" fill="#1e90ff"/>
<rect x="997" y="629" width="1" height="1" fill="#1e90ff"/>
<rect x="505" y="625" width="1" height="1" fill="#1e90ff"/>
<rect x="745" y="625" width="1" height="1" fill="#1e90ff"/>
<rect x="765" y="625" width="1" height="1" fill="#1e90ff"/>
<rect x="790" y="625" width="2" height="1" fill="#1e90ff"/>
<rect x="794" y="625" width="1" height="1" fill="#1e90ff"/>
<rect x="938" y="625" width="1" height="1" fill="#1e90ff"/>
<rect x="948" y="625" width="1" height="1" fill="#1e90ff"/>
<rect x="994" y="625" width="1" height="1" fill="#1e90ff"/>
<rect x="659" y="637" width="2" height="1" fill="#1e90ff"/>
<rect x="671" y="637" width="19" height="1" fill="#1e90ff"/>
<rect x="1004" y="637" width="1" height="1" fill="#1e90ff"/>
<rect x="1063" y="637" width="11" height="1" fill="#1e90ff"/>
<rect x="1090" y="637" width="1" height="1" fill="#1e90ff"/>
<rect x="252" y="619" width="1" height="1" fill="#1e90ff"/>
<rect x="263" y="619" width="2" height="1" fill="#1e90ff"/>
<rect x="277" y="619" width="2" height="1" fill="#1e90ff"/>
<rect x="284" y="619" width="1" height="1" fill="#1e90ff"/>
<rect x="297" y="619" width="4" height="1" fill="#1e90ff"/>
<rect x="309" y="619" width="13" height="1" fill="#1e90ff"/>
<rect x="500" y="619" width="1" height="1" fill="#1e90ff"/>
<rect x="799" y="619" width="1" height="1" fill="#1e90ff"/>
<rect x="929" y="619" width="1" height="1" fill="#1e90ff"/>
<rect x="951" y="619" width="1" height="1" fill="#1e90ff"/>
<rect x="971" y="619" width="2" height="1" fill="#1e90ff"/>
<rect x="45" y="604" width="1" height="1" fill="#1e90ff"/>
<rect x="207" y="604" width="1" height="1" fill="#1e90ff"/>
<rect x="325" y="604" width="1" height="1" fill="#1e90ff"/>
<rect x="409" y="604" width="4" height="1" fill="#1e90ff"/>
<rect x="418" y="604" width="2" height="1" fill="#1e90ff"/>
<rect x="468" y="604" width="1" height="1" fill="#1e90ff"/>
<rect x="480" y="604" width="1" height="1" fill="#1e90ff"/>
<rect x="870" y="604" width="1" height="1" fill="#1e90ff"/>
<rect x="885" y="604" width="5" height="1" fill="#1e90ff"/>
<rect x="42" y="607" width="1" height="1" fill="#1e90ff"/>
<rect x="209" y="607" width="1" height="1" fill="#1e90ff"/>
<rect x="211" y="607" width="4" height="1" fill="#1e90ff"/>
<rect x="221" y="607" width="5" height="1" fill="#1e90ff"/>
<rect x="324" y="607" width="1" height="1" fill="#1e90ff"/>
<rect x="424" y="607" width="2" height="1" fill="#1e90ff"/>
<rect x="467" y="607" width="1" height="1" fill="#1e90ff"/>
<rect x="481" y="607" width="2" height="1" fill="#1e90ff"/>
<rect x="867" y="607" width="1" height="1" fill="#1e90ff"/>
<rect x="894" y="607" width="2" height="1" fill="#1e90ff"/>
<rect x="5" y="613" width="1" height="1" fill="#1e90ff"/>
<rect x="245" y="613" width="2" height="1" fill="#1e90ff"/>
<rect x="322" y="613" width="1" height="1" fill="#1e90ff"/>
<rect x="432" y="613" width="1" height="1" fill="#1e90ff"/>
<rect x="434" y="613" width="2" height="1" fill="#1e90ff"/>
<rect x="453" y="613" width="3" height="1" fill="#1e90ff"/>
<rect x="459" y="613" width="4" height="1" fill="#1e90ff"/>
<rect x="493" y="613" width="2" height="1" fill="#1e90ff"/>
<rect x="813" y="613" width="3" height="1" fill="#1e90ff"/>
<rect x="819" y="613" width="4" height="1" fill="#1e90ff"/>
<rect x="827" y="613" width="2" height="1" fill="#1e90ff"/>
<rect x="905" y="613" width="2" height="1" fill="#1e90ff"/>
<rect x="920" y="613" width="2" height="1" fill="#1e90ff"/>
<rect x="6" y="611" width="1" height="1" fill="#1e90ff"/>
<rect x="21" y="611" width="3" height="1" fill="#1e90ff"/>
<rect x="27" y="611" width="2" height="1" fill="#1e90ff"/>
<rect x="232" y="611" width="3" height="1" fill="#1e90ff"/>
<rect x="243" y="611" width="1" height="1" fill="#1e90ff"/>
<rect x="323" y="611" width="1" height="1" fill="#1e90ff"/>
<rect x="429" y="611" width="2" height="1" fill="#1e90ff"/>
<rect x="437" y="611" width="2" height="1" fill="#1e90ff"/>
<rect x="447" y="611" width="4" height="1" fill="#1e90ff"/>
<rect x="465" y="611" width="1" height="1" fill="#1e90ff"/>
<rect x="490" y="611" width="2" height="1" fill="#1e90ff"/>
<rect x="832" y="611" width="3" height="1" fill="#1e90ff"/>
<rect x="845" y="611" width="3" height="1" fill="#1e90ff"/>
<rect x="859" y="611" width="2" height="1" fill="#1e90ff"/>
<rect x="901" y="611" width="2" height="1" fill="#1e90ff"/>
<rect x="909" y="611" width="3" height="1" fill="#1e90ff"/>
<rect x="915" y="611" width="2" height="1" fill="#1e90ff"/>
<rect x="61" y="595" width="5" height="1" fill="#1e90ff"/>
<rect x="80" y="595" width="10" height="1" fill="#1e90ff"/>
<rect x="142" y="595" width="1" height="1" fill="#1e90ff"/>
<rect x="175" y="595" width="4" height="1" fill="#1e90ff"/>
<rect x="188" y="595" width="1" height="1" fill="#1e90ff"/>
<rect x="203" y="595" width="1" height="1" fill="#1e90ff"/>
<rect x="327" y="595" width="1" height="1" fill="#1e90ff"/>
<rect x="402" y="595" width="1" height="1" fill="#1e90ff"/>
<rect x="471" y="595" width="1" height="1" fill="#1e90ff"/>
<rect x="475" y="595" width="1" height="1" fill="#1e90ff"/>
<rect x="253" y="620" width="1" height="1" fill="#1e90ff"/>
<rect x="262" y="620" width="1" height="1" fill="#1e90ff"/>
<rect x="279" y="620" width="1" height="1" fill="#1e90ff"/>
<rect x="283" y="620" width="1" height="1" fill="#1e90ff"/>
<rect x="501" y="620" width="1" height="1" fill="#1e90ff"/>
<rect x="798" y="620" width="1" height="1" fill="#1e90ff"/>
<rect x="930" y="620" width="2" height="1" fill="#1e90ff"/>
<rect x="950" y="620" width="1" height="1" fill="#1e90ff"/>
<rect x="973" y="620" width="3" height="1" fill="#1e90ff"/>
<rect x="1012" y="642" width="1" height="1" fill="#1e90ff"/>
<rect x="1055" y="642" width="1" height="1" fill="#1e90ff"/>
<rect x="1094" y="642" width="1" height="1" fill="#1e90ff"/>
<rect x="1159" y="642" width="2" height="1" fill="#1e90ff"/>
<rect x="1165" y="642" width="6" height="1" fill="#1e90ff"/>
<rect x="251" y="618" width="1" height="1" fill="#1e90ff"/>
<rect x="265" y="618" width="2" height="1" fill="#1e90ff"/>
<rect x="276" y="618" width="1" height="1" fill="#1e90ff"/>
<rect x="285" y="618" width="1" height="1" fill="#1e90ff"/>
<rect x="295" y="618" width="2" height="1" fill="#1e90ff"/>
<rect x="301" y="618" width="8" height="1" fill="#1e90ff"/>
<rect x="321" y="618" width="1" height="1" fill="#1e90ff"/>
<rect x="499" y="618" width="1" height="1" fill="#1e90ff"/>
<rect x="800" y="618" width="1" height="1" fill="#1e90ff"/>
<rect x="927" y="618" width="2" height="1" fill="#1e90ff"/>
<rect x="951" y="618" width="1" height="1" fill="#1e90ff"/>
<rect x="960" y="618" width="11" height="1" fill="#1e90ff"/>
<rect x="511" y="632" width="1" height="1" fill="#1e90ff"/>
<rect x="517" y="632" width="3" height="1" fill="#1e90ff"/>
<rect x="535" y="632" width="12" height="1" fill="#1e90ff"/>
<rect x="557" y="632" width="2" height="1" fill="#1e90ff"/>
<rect x="573" y="632" width="6" height="1" fill="#1e90ff"/>
<rect x="600" y="632" width="5" height="1" fill="#1e90ff"/>
<rect x="611" y="632" width="2" height="1" fill="#1e90ff"/>
<rect x="623" y="632" width="4" height="1" fill="#1e90ff"/>
<rect x="651" y="632" width="2" height="1" fill="#1e90ff"/>
<rect x="693" y="632" width="1" height="1" fill="#1e90ff"/>
<rect x="751" y="632" width="1" height="1" fill="#1e90ff"/>
<rect x="756" y="632" width="1" height="1" fill="#1e90ff"/>
<rect x="999" y="632" width="1" height="1" fill="#1e90ff"/>
<rect x="1081" y="632" width="1" height="1" fill="#1e90ff"/>
<rect x="4" y="614" width="1" height="1" fill="#1e90ff"/>
<rect x="247" y="614" width="1" height="1" fill="#1e90ff"/>
<rect x="289" y="614" width="1" height="1" fill="#1e90ff"/>
<rect x="322" y="614" width="1" height="1" fill="#1e90ff"/>
<rect x="433" y="614" width="1" height="1" fill="#1e90ff"/>
<rect x="456" y="614" width="3" height="1" fill="#1e90ff"/>
<rect x="495" y="614" width="2" height="1" fill="#1e90ff"/>
<rect x="811" y="614" width="2" height="1" fill="#1e90ff"/>
<rect x="823" y="614" width="4" height="1" fill="#1e90ff"/>
<rect x="922" y="614" width="1" height="1" fill="#1e90ff"/>
<rect x="9" y="608" width="4" height="1" fill="#1e90ff"/>
<rect x="37" y="608" width="5" height="1" fill="#1e90ff"/>
<rect x="209" y="608" width="2" height="1" fill="#1e90ff"/>
<rect x="226" y="608" width="2" height="1" fill="#1e90ff"/>
<rect x="324" y="608" width="1" height="1" fill="#1e90ff"/>
<rect x="426" y="608" width="1" height="1" fill="#1e90ff"/>
<rect x="466" y="608" width="1" height="1" fill="#1e90ff"/>
<rect x="483" y="608" width="2" height="1" fill="#1e90ff"/>
<rect x="866" y="608" width="1" height="1" fill="#1e90ff"/>
<rect x="896" y="608" width="2" height="1" fill="#1e90ff"/>
<rect x="3" y="615" width="1" height="1" fill="#1e90ff"/>
<rect x="248" y="615" width="1" height="1" fill="#1e90ff"/>
<rect x="272" y="615" width="2" height="1" fill="#1e90ff"/>
<rect x="288" y="615" width="1" height="1" fill="#1e90ff"/>
<rect x="290" y="615" width="2" height="1" fill="#1e90ff"/>
<rect x="322" y="615" width="1" height="1" fill="#1e90ff"/>
<rect x="497" y="615" width="1" height="1" fill="#1e90ff"/>
<rect x="807" y="615" width="4" height="1" fill="#1e90ff"/>
<rect x="923" y="615" width="2" height="1" fill="#1e90ff"/>
<rect x="953" y="615" width="2" height="1" fill="#1e90ff"/>
<rect x="51" y="598" width="2" height="1" fill="#1e90ff"/>
<rect x="144" y="598" width="1" height="1" fill="#1e90ff"/>
<rect x="149" y="598" width="2" height="1" fill="#1e90ff"/>
<rect x="159" y="598" width="6" height="1" fill="#1e90ff"/>
<rect x="184" y="598" width="2" height="1" fill="#1e90ff"/>
<rect x="204" y="598" width="1" height="1" fill="#1e90ff"/>
<rect x="326" y="598" width="1" height="1" fill="#1e90ff"/>
<rect x="405" y="598" width="1" height="1" fill="#1e90ff"/>
<rect x="470" y="598" width="1" height="1" fill="#1e90ff"/>
<rect x="477" y="598" width="1" height="1" fill="#1e90ff"/>
<rect x="256" y="623" width="1" height="1" fill="#1e90ff"/>
<rect x="258" y="623" width="1" height="1" fill="#1e90ff"/>
<rect x="503" y="623" width="1" height="1" fill="#1e90ff"/>
<rect x="767" y="623" width="2" height="1" fill="#1e90ff"/>
<rect x="786" y="623" width="2" height="1" fill="#1e90ff"/>
<rect x="796" y="623" width="1" height="1" fill="#1e90ff"/>
<rect x="935" y="623" width="2" height="1" fill="#1e90ff"/>
<rect x="949" y="623" width="1" height="1" fill="#1e90ff"/>
<rect x="983" y="623" width="11" height="1" fill="#1e90ff"/>
<rect x="657" y="636" width="2" height="1" fill="#1e90ff"/>
<rect x="690" y="636" width="1" height="1" fill="#1e90ff"/>
<rect x="1002" y="636" width="2" height="1" fill="#1e90ff"/>
<rect x="1074" y="636" width="2" height="1" fill="#1e90ff"/>
<rect x="1088" y="636" width="2" height="1" fill="#1e90ff"/>
<rect x="7" y="610" width="1" height="1" fill="#1e90ff"/>
<rect x="19" y="610" width="2" height="1" fill="#1e90ff"/>
<rect x="29" y="610" width="3" height="1" fill="#1e90ff"/>
<rect x="230" y="610" width="2" height="1" fill="#1e90ff"/>
<rect x="235" y="610" width="4" height="1" fill="#1e90ff"/>
<rect x="242" y="610" width="1" height="1" fill="#1e90ff"/>
<rect x="323" y="610" width="1" height="1" fill="#1e90ff"/>
<rect x="428" y="610" width="1" height="1" fill="#1e90ff"/>
<rect x="439" y="610" width="2" height="1" fill="#1e90ff"/>
<rect x="443" y="610" width="4" height="1" fill="#1e90ff"/>
<rect x="466" y="610" width="1" height="1" fill="#1e90ff"/>
<rect x="488" y="610" width="2" height="1" fill="#1e90ff"/>
<rect x="835" y="610" width="4" height="1" fill="#1e90ff"/>
<rect x="843" y="610" width="2" height="1" fill="#1e90ff"/>
<rect x="861" y="610" width="3" height="1" fill="#1e90ff"/>
<rect x="900" y="610" width="1" height="1" fill="#1e90ff"/>
<rect x="912" y="610" width="3" height="1" fill="#1e90ff"/>
<rect x="510" y="631" width="1" height="1" fill="#1e90ff"/>
<rect x="520" y="631" width="5" height="1" fill="#1e90ff"/>
<rect x="531" y="631" width="4" height="1" fill="#1e90ff"/>
<rect x="559" y="631" width="2" height="1" fill="#1e90ff"/>
<rect x="565" y="631" width="8" height="1" fill="#1e90ff"/>
<rect x="579" y="631" width="4" height="1" fill="#1e90ff"/>
<rect x="598" y="631" width="2" height="1" fill="#1e90ff"/>
<rect x="613" y="631" width="3" height="1" fill="#1e90ff"/>
<rect x="619" y="631" width="4" height="1" fill="#1e90ff"/>
<rect x="627" y="631" width="4" height="1" fill="#1e90ff"/>
<rect x="650" y="631" width="1" height="1" fill="#1e90ff"/>
<rect x="694" y="631" width="1" height="1" fill="#1e90ff"/>
<rect x="720" y="631" width="13" height="1" fill="#1e90ff"/>
<rect x="750" y="631" width="1" height="1" fill="#1e90ff"/>
<rect x="757" y="631" width="2" height="1" fill="#1e90ff"/>
<rect x="998" y="631" width="1" height="1" fill="#1e90ff"/>
<rect x="99" y="588" width="4" height="1" fill="#1e90ff"/>
<rect x="139" y="588" width="1" height="1" fill="#1e90ff"/>
<rect x="328" y="588" width="1" height="1" fill="#1e90ff"/>
<rect x="353" y="588" width="1" height="1" fill="#1e90ff"/>
<rect x="374" y="588" width="1" height="1" fill="#1e90ff"/>
<rect x="393" y="588" width="1" height="1" fill="#1e90ff"/>
<rect x="125" y="583" width="8" height="1" fill="#1e90ff"/>
<rect x="338" y="583" width="1" height="1" fill="#1e90ff"/>
<rect x="349" y="583" width="1" height="1" fill="#1e90ff"/>
<rect x="380" y="583" width="1" height="1" fill="#1e90ff"/>
<rect x="388" y="583" width="1" height="1" fill="#1e90ff"/>
<rect x="255" y="622" width="1" height="1" fill="#1e90ff"/>
<rect x="259" y="622" width="2" height="1" fill="#1e90ff"/>
<rect x="281" y="622" width="1" height="1" fill="#1e90ff"/>
<rect x="503" y="622" width="1" height="1" fill="#1e90ff"/>
<rect x="769" y="622" width="4" height="1" fill="#1e90ff"/>
<rect x="781" y="622" width="5" height="1" fill="#1e90ff"/>
<rect x="797" y="622" width="1" height="1" fill="#1e90ff"/>
<rect x="933" y="622" width="2" height="1" fill="#1e90ff"/>
<rect x="949" y="622" width="1" height="1" fill="#1e90ff"/>
<rect x="979" y="622" width="4" height="1" fill="#1e90ff"/>
<rect x="1023" y="647" width="19" height="1" fill="#1e90ff"/>
<rect x="1052" y="647" width="1" height="1" fill="#1e90ff"/>
<rect x="1116" y="647" width="1" height="1" fill="#1e90ff"/>
<rect x="1128" y="647" width="1" height="1" fill="#1e90ff"/>
<rect x="1133" y="647" width="8" height="1" fill="#1e90ff"/>
<rect x="1147" y="647" width="4" height="1" fill="#1e90ff"/>
<rect x="120" y="584" width="5" height="1" fill="#1e90ff"/>
<rect x="133" y="584" width="5" height="1" fill="#1e90ff"/>
<rect x="333" y="584" width="5" height="1" fill="#1e90ff"/>
<rect x="350" y="584" width="1" height="1" fill="#1e90ff"/>
<rect x="378" y="584" width="2" height="1" fill="#1e90ff"/>
<rect x="389" y="584" width="1" height="1" fill="#1e90ff"/>
<rect x="339" y="582" width="2" height="1" fill="#1e90ff"/>
<rect x="348" y="582" width="1" height="1" fill="#1e90ff"/>
<rect x="381" y="582" width="2" height="1" fill="#1e90ff"/>
<rect x="387" y="582" width="1" height="1" fill="#1e90ff"/>
<rect x="115" y="586" width="2" height="1" fill="#1e90ff"/>
<rect x="138" y="586" width="1" height="1" fill="#1e90ff"/>
<rect x="329" y="586" width="1" height="1" fill="#1e90ff"/>
<rect x="351" y="586" width="1" height="1" fill="#1e90ff"/>
<rect x="376" y="586" width="1" height="1" fill="#1e90ff"/>
<rect x="391" y="586" width="1" height="1" fill="#1e90ff"/>
<rect x="1010" y="641" width="2" height="1" fill="#1e90ff"/>
<rect x="1056" y="641" width="1" height="1" fill="#1e90ff"/>
<rect x="1093" y="641" width="1" height="1" fill="#1e90ff"/>
<rect x="1161" y="641" width="4" height="1" fill="#1e90ff"/>
<rect x="1171" y="641" width="4" height="1" fill="#1e90ff"/>
<rect x="509" y="630" width="1" height="1" fill="#1e90ff"/>
<rect x="525" y="630" width="6" height="1" fill="#1e90ff"/>
<rect x="561" y="630" width="4" height="1" fill="#1e90ff"/>
<rect x="583" y="630" width="4" height="1" fill="#1e90ff"/>
<rect x="596" y="630" width="2" height="1" fill="#1e90ff"/>
<rect x="616" y="630" width="3" height="1" fill="#1e90ff"/>
<rect x="631" y="630" width="6" height="1" fill="#1e90ff"/>
<rect x="645" y="630" width="5" height="1" fill="#1e90ff"/>
<rect x="695" y="630" width="1" height="1" fill="#1e90ff"/>
<rect x="704" y="630" width="3" height="1" fill="#1e90ff"/>
<rect x="717" y="630" width="3" height="1" fill="#1e90ff"/>
<rect x="733" y="630" width="5" height="1" fill="#1e90ff"/>
<rect x="749" y="630" width="1" height="1" fill="#1e90ff"/>
<rect x="759" y="630" width="1" height="1" fill="#1e90ff"/>
<rect x="945" y="630" width="1" height="1" fill="#1e90ff"/>
<rect x="998" y="630" width="1" height="1" fill="#1e90ff"/>
<rect x="513" y="634" width="2" height="1" fill="#1e90ff"/>
<rect x="549" y="634" width="3" height="1" fill="#1e90ff"/>
<rect x="554" y="634" width="2" height="1" fill="#1e90ff"/>
<rect x="654" y="634" width="1" height="1" fill="#1e90ff"/>
<rect x="691" y="634" width="1" height="1" fill="#1e90ff"/>
<rect x="752" y="634" width="1" height="1" fill="#1e90ff"/>
<rect x="754" y="634" width="1" height="1" fill="#1e90ff"/>
<rect x="1000" y="634" width="1" height="1" fill="#1e90ff"/>
<rect x="1077" y="634" width="2" height="1" fill="#1e90ff"/>
<rect x="1084" y="634" width="2" height="1" fill="#1e90ff"/>
<rect x="2" y="616" width="1" height="1" fill="#1e90ff"/>
<rect x="249" y="616" width="1" height="1" fill="#1e90ff"/>
<rect x="269" y="616" width="3" height="1" fill="#1e90ff"/>
<rect x="274" y="616" width="1" height="1" fill="#1e90ff"/>
<rect x="287" y="616" width="1" height="1" fill="#1e90ff"/>
<rect x="292" y="616" width="1" height="1" fill="#1e90ff"/>
<rect x="322" y="616" width="1" height="1" fill="#1e90ff"/>
<rect x="498" y="616" width="1" height="1" fill="#1e90ff"/>
<rect x="803" y="616" width="4" height="1" fill="#1e90ff"/>
<rect x="925" y="616" width="1" height="1" fill="#1e90ff"/>
<rect x="952" y="616" width="1" height="1" fill="#1e90ff"/>
<rect x="955" y="616" width="2" height="1" fill="#1e90ff"/>
<rect x="43" y="606" width="1" height="1" fill="#1e90ff"/>
<rect x="208" y="606" width="1" height="1" fill="#1e90ff"/>
<rect x="215" y="606" width="6" height="1" fill="#1e90ff"/>
<rect x="324" y="606" width="1" height="1" fill="#1e90ff"/>
<rect x="422" y="606" width="2" height="1" fill="#1e90ff"/>
<rect x="467" y="606" width="1" height="1" fill="#1e90ff"/>
<rect x="481" y="606" width="1" height="1" fill="#1e90ff"/>
<rect x="868" y="606" width="1" height="1" fill="#1e90ff"/>
<rect x="892" y="606" width="2" height="1" fill="#1e90ff"/>
<rect x="45" y="603" width="1" height="1" fill="#1e90ff"/>
<rect x="207" y="603" width="1" height="1" fill="#1e90ff"/>
<rect x="325" y="603" width="1" height="1" fill="#1e90ff"/>
<rect x="408" y="603" width="1" height="1" fill="#1e90ff"/>
<rect x="413" y="603" width="5" height="1" fill="#1e90ff"/>
<rect x="468" y="603" width="1" height="1" fill="#1e90ff"/>
<rect x="479" y="603" width="1" height="1" fill="#1e90ff"/>
<rect x="871" y="603" width="1" height="1" fill="#1e90ff"/>
<rect x="879" y="603" width="6" height="1" fill="#1e90ff"/>
<rect x="507" y="627" width="1" height="1" fill="#1e90ff"/>
<rect x="697" y="627" width="2" height="1" fill="#1e90ff"/>
<rect x="741" y="627" width="2" height="1" fill="#1e90ff"/>
<rect x="747" y="627" width="1" height="1" fill="#1e90ff"/>
<rect x="762" y="627" width="1" height="1" fill="#1e90ff"/>
<rect x="941" y="627" width="1" height="1" fill="#1e90ff"/>
<rect x="947" y="627" width="1" height="1" fill="#1e90ff"/>
<rect x="996" y="627" width="1" height="1" fill="#1e90ff"/>
<rect x="97" y="589" width="2" height="1" fill="#1e90ff"/>
<rect x="139" y="589" width="1" height="1" fill="#1e90ff"/>
<rect x="328" y="589" width="1" height="1" fill="#1e90ff"/>
<rect x="354" y="589" width="1" height="1" fill="#1e90ff"/>
<rect x="373" y="589" width="1" height="1" fill="#1e90ff"/>
<rect x="394" y="589" width="2" height="1" fill="#1e90ff"/>
<rect x="68" y="593" width="2" height="1" fill="#1e90ff"/>
<rect x="76" y="593" width="2" height="1" fill="#1e90ff"/>
<rect x="91" y="593" width="2" height="1" fill="#1e90ff"/>
<rect x="141" y="593" width="1" height="1" fill="#1e90ff"/>
<rect x="191" y="593" width="1" height="1" fill="#1e90ff"/>
<rect x="202" y="593" width="1" height="1" fill="#1e90ff"/>
<rect x="327" y="593" width="1" height="1" fill="#1e90ff"/>
<rect x="359" y="593" width="2" height="1" fill="#1e90ff"/>
<rect x="365" y="593" width="5" height="1" fill="#1e90ff"/>
<rect x="401" y="593" width="1" height="1" fill="#1e90ff"/>
<rect x="472" y="593" width="1" height="1" fill="#1e90ff"/>
<rect x="474" y="593" width="1" height="1" fill="#1e90ff"/>
<rect x="257" y="624" width="1" height="1" fill="#1e90ff"/>
<rect x="504" y="624" width="1" height="1" fill="#1e90ff"/>
<rect x="766" y="624" width="1" height="1" fill="#1e90ff"/>
<rect x="788" y="624" width="2" height="1" fill="#1e90ff"/>
<rect x="795" y="624" width="1" height="1" fill="#1e90ff"/>
<rect x="937" y="624" width="1" height="1" fill="#1e90ff"/>
<rect x="948" y="624" width="1" height="1" fill="#1e90ff"/>
<rect x="994" y="624" width="1" height="1" fill="#1e90ff"/>
<rect x="508" y="628" width="1" height="1" fill="#1e90ff"/>
<rect x="591" y="628" width="3" height="1" fill="#1e90ff"/>
<rect x="696" y="628" width="1" height="1" fill="#1e90ff"/>
<rect x="699" y="628" width="2" height="1" fill="#1e90ff"/>
<rect x="711" y="628" width="4" height="1" fill="#1e90ff"/>
<rect x="740" y="628" width="1" height="1" fill="#1e90ff"/>
<rect x="747" y="628" width="1" height="1" fill="#1e90ff"/>
<rect x="761" y="628" width="1" height="1" fill="#1e90ff"/>
<rect x="942" y="628" width="1" height="1" fill="#1e90ff"/>
<rect x="946" y="628" width="1" height="1" fill="#1e90ff"/>
<rect x="996" y="628" width="1" height="1" fill="#1e90ff"/>
<rect x="8" y="609" width="1" height="1" fill="#1e90ff"/>
<rect x="13" y="609" width="6" height="1" fill="#1e90ff"/>
<rect x="32" y="609" width="5" height="1" fill="#1e90ff"/>
<rect x="228" y="609" width="2" height="1" fill="#1e90ff"/>
<rect x="239" y="609" width="3" height="1" fill="#1e90ff"/>
<rect x="323" y="609" width="1" height="1" fill="#1e90ff"/>
<rect x="427" y="609" width="1" height="1" fill="#1e90ff"/>
<rect x="441" y="609" width="2" height="1" fill="#1e90ff"/>
<rect x="466" y="609" width="1" height="1" fill="#1e90ff"/>
<rect x="485" y="609" width="3" height="1" fill="#1e90ff"/>
<rect x="839" y="609" width="4" height="1" fill="#1e90ff"/>
<rect x="864" y="609" width="2" height="1" fill="#1e90ff"/>
<rect x="898" y="609" width="2" height="1" fill="#1e90ff"/>
<rect x="48" y="600" width="1" height="1" fill="#1e90ff"/>
<rect x="145" y="600" width="3" height="1" fill="#1e90ff"/>
<rect x="205" y="600" width="1" height="1" fill="#1e90ff"/>
<rect x="325" y="600" width="1" height="1" fill="#1e90ff"/>
<rect x="406" y="600" width="1" height="1" fill="#1e90ff"/>
<rect x="469" y="600" width="1" height="1" fill="#1e90ff"/>
<rect x="478" y="600" width="1" height="1" fill="#1e90ff"/>
<rect x="72" y="591" width="2" height="1" fill="#1e90ff"/>
<rect x="94" y="591" width="1" height="1" fill="#1e90ff"/>
<rect x="140" y="591" width="1" height="1" fill="#1e90ff"/>
<rect x="193" y="591" width="9" height="1" fill="#1e90ff"/>
<rect x="328" y="591" width="1" height="1" fill="#1e90ff"/>
<rect x="357" y="591" width="1" height="1" fill="#1e90ff"/>
<rect x="371" y="591" width="1" height="1" fill="#1e90ff"/>
<rect x="397" y="591" width="2" height="1" fill="#1e90ff"/>
<rect x="473" y="591" width="1" height="1" fill="#1e90ff"/>
<rect x="552" y="635" width="2" height="1" fill="#1e90ff"/>
<rect x="655" y="635" width="2" height="1" fill="#1e90ff"/>
<rect x="691" y="635" width="1" height="1" fill="#1e90ff"/>
<rect x="753" y="635" width="1" height="1" fill="#1e90ff"/>
<rect x="1001" y="635" width="1" height="1" fill="#1e90ff"/>
<rect x="1076" y="635" width="1" height="1" fill="#1e90ff"/>
<rect x="1086" y="635" width="2" height="1" fill="#1e90ff"/>
<rect x="345" y="578" width="1" height="1" fill="#1e90ff"/>
<rect x="1045" y="650" width="2" height="1" fill="#1e90ff"/>
<rect x="1050" y="650" width="1" height="1" fill="#1e90ff"/>
<rect x="1118" y="650" width="1" height="1" fill="#1e90ff"/>
<rect x="1124" y="650" width="1" height="1" fill="#1e90ff"/>
<rect x="343" y="579" width="2" height="1" fill="#1e90ff"/>
<rect x="346" y="579" width="1" height="1" fill="#1e90ff"/>
<rect x="117" y="585" width="3" height="1" fill="#1e90ff"/>
<rect x="137" y="585" width="1" height="1" fill="#1e90ff"/>
<rect x="329" y="585" width="4" height="1" fill="#1e90ff"/>
<rect x="351" y="585" width="1" height="1" fill="#1e90ff"/>
<rect x="377" y="585" width="1" height="1" fill="#1e90ff"/>
<rect x="390" y="585" width="1" height="1" fill="#1e90ff"/>
<rect x="1047" y="651" width="2" height="1" fill="#1e90ff"/>
<rect x="1050" y="651" width="1" height="1" fill="#1e90ff"/>
<rect x="1119" y="651" width="1" height="1" fill="#1e90ff"/>
<rect x="1123" y="651" width="1" height="1" fill="#1e90ff"/>
<rect x="56" y="596" width="5" height="1" fill="#1e90ff"/>
<rect x="143" y="596" width="1" height="1" fill="#1e90ff"/>
<rect x="153" y="596" width="2" height="1" fill="#1e90ff"/>
<rect x="171" y="596" width="4" height="1" fill="#1e90ff"/>
<rect x="179" y="596" width="2" height="1" fill="#1e90ff"/>
<rect x="187" y="596" width="1" height="1" fill="#1e90ff"/>
<rect x="203" y="596" width="1" height="1" fill="#1e90ff"/>
<rect x="326" y="596" width="1" height="1" fill="#1e90ff"/>
<rect x="403" y="596" width="1" height="1" fill="#1e90ff"/>
<rect x="471" y="596" width="1" height="1" fill="#1e90ff"/>
<rect x="476" y="596" width="1" height="1" fill="#1e90ff"/>
<rect x="66" y="594" width="2" height="1" fill="#1e90ff"/>
<rect x="78" y="594" width="2" height="1" fill="#1e90ff"/>
<rect x="90" y="594" width="1" height="1" fill="#1e90ff"/>
<rect x="142" y="594" width="1" height="1" fill="#1e90ff"/>
<rect x="189" y="594" width="2" height="1" fill="#1e90ff"/>
<rect x="202" y="594" width="1" height="1" fill="#1e90ff"/>
<rect x="327" y="594" width="1" height="1" fill="#1e90ff"/>
<rect x="361" y="594" width="4" height="1" fill="#1e90ff"/>
<rect x="402" y="594" width="1" height="1" fill="#1e90ff"/>
<rect x="472" y="594" width="1" height="1" fill="#1e90ff"/>
<rect x="475" y="594" width="1" height="1" fill="#1e90ff"/>
<rect x="1013" y="643" width="2" height="1" fill="#1e90ff"/>
<rect x="1055" y="643" width="1" height="1" fill="#1e90ff"/>
<rect x="1095" y="643" width="1" height="1" fill="#1e90ff"/>
<rect x="1157" y="643" width="2" height="1" fill="#1e90ff"/>
<rect x="1" y="617" width="1" height="1" fill="#1e90ff"/>
<rect x="250" y="617" width="1" height="1" fill="#1e90ff"/>
<rect x="267" y="617" width="2" height="1" fill="#1e90ff"/>
<rect x="275" y="617" width="1" height="1" fill="#1e90ff"/>
<rect x="286" y="617" width="1" height="1" fill="#1e90ff"/>
<rect x="293" y="617" width="2" height="1" fill="#1e90ff"/>
<rect x="321" y="617" width="1" height="1" fill="#1e90ff"/>
<rect x="499" y="617" width="1" height="1" fill="#1e90ff"/>
<rect x="801" y="617" width="2" height="1" fill="#1e90ff"/>
<rect x="926" y="617" width="1" height="1" fill="#1e90ff"/>
<rect x="952" y="617" width="1" height="1" fill="#1e90ff"/>
<rect x="957" y="617" width="3" height="1" fill="#1e90ff"/>
<rect x="5" y="612" width="1" height="1" fill="#1e90ff"/>
<rect x="24" y="612" width="3" height="1" fill="#1e90ff"/>
<rect x="244" y="612" width="1" height="1" fill="#1e90ff"/>
<rect x="323" y="612" width="1" height="1" fill="#1e90ff"/>
<rect x="431" y="612" width="1" height="1" fill="#1e90ff"/>
<rect x="436" y="612" width="1" height="1" fill="#1e90ff"/>
<rect x="451" y="612" width="2" height="1" fill="#1e90ff"/>
<rect x="463" y="612" width="3" height="1" fill="#1e90ff"/>
<rect x="492" y="612" width="1" height="1" fill="#1e90ff"/>
<rect x="816" y="612" width="3" height="1" fill="#1e90ff"/>
<rect x="829" y="612" width="3" height="1" fill="#1e90ff"/>
<rect x="848" y="612" width="11" height="1" fill="#1e90ff"/>
<rect x="903" y="612" width="2" height="1" fill="#1e90ff"/>
<rect x="907" y="612" width="2" height="1" fill="#1e90ff"/>
<rect x="917" y="612" width="3" height="1" fill="#1e90ff"/>
<rect x="1017" y="645" width="2" height="1" fill="#1e90ff"/>
<rect x="1053" y="645" width="1" height="1" fill="#1e90ff"/>
<rect x="1096" y="645" width="1" height="1" fill="#1e90ff"/>
<rect x="1099" y="645" width="4" height="1" fill="#1e90ff"/>
<rect x="1114" y="645" width="1" height="1" fill="#1e90ff"/>
<rect x="1154" y="645" width="2" height="1" fill="#1e90ff"/>
<rect x="103" y="587" width="12" height="1" fill="#1e90ff"/>
<rect x="138" y="587" width="1" height="1" fill="#1e90ff"/>
<rect x="329" y="587" width="1" height="1" fill="#1e90ff"/>
<rect x="352" y="587" width="1" height="1" fill="#1e90ff"/>
<rect x="375" y="587" width="1" height="1" fill="#1e90ff"/>
<rect x="392" y="587" width="1" height="1" fill="#1e90ff"/>
<rect x="1049" y="652" width="1" height="1" fill="#1e90ff"/>
<rect x="1120" y="652" width="1" height="1" fill="#1e90ff"/>
<rect x="1122" y="652" width="1" height="1" fill="#1e90ff"/>
<rect x="1121" y="653" width="1" height="1" fill="#1e90ff"/>
<rect x="1009" y="640" width="1" height="1" fill="#1e90ff"/>
<rect x="1056" y="640" width="1" height="1" fill="#1e90ff"/>
<rect x="1092" y="640" width="1" height="1" fill="#1e90ff"/>
<rect x="1175" y="640" width="11" height="1" fill="#1e90ff"/>
<rect x="46" y="602" width="1" height="1" fill="#1e90ff"/>
<rect x="206" y="602" width="1" height="1" fill="#1e90ff"/>
<rect x="325" y="602" width="1" height="1" fill="#1e90ff"/>
<rect x="408" y="602" width="1" height="1" fill="#1e90ff"/>
<rect x="469" y="602" width="1" height="1" fill="#1e90ff"/>
<rect x="479" y="602" width="1" height="1" fill="#1e90ff"/>
<rect x="872" y="602" width="1" height="1" fill="#1e90ff"/>
<rect x="875" y="602" width="4" height="1" fill="#1e90ff"/>
<rect x="512" y="633" width="1" height="1" fill="#1e90ff"/>
<rect x="515" y="633" width="2" height="1" fill="#1e90ff"/>
<rect x="547" y="633" width="2" height="1" fill="#1e90ff"/>
<rect x="556" y="633" width="1" height="1" fill="#1e90ff"/>
<rect x="605" y="633" width="6" height="1" fill="#1e90ff"/>
<rect x="653" y="633" width="1" height="1" fill="#1e90ff"/>
<rect x="692" y="633" width="1" height="1" fill="#1e90ff"/>
<rect x="751" y="633" width="1" height="1" fill="#1e90ff"/>
<rect x="755" y="633" width="1" height="1" fill="#1e90ff"/>
<rect x="1000" y="633" width="1" height="1" fill="#1e90ff"/>
<rect x="1079" y="633" width="2" height="1" fill="#1e90ff"/>
<rect x="1082" y="633" width="2" height="1" fill="#1e90ff"/>
<rect x="661" y="638" width="3" height="1" fill="#1e90ff"/>
<rect x="667" y="638" width="4" height="1" fill="#1e90ff"/>
<rect x="1005" y="638" width="2" height="1" fill="#1e90ff"/>
<rect x="1059" y="638" width="4" height="1" fill="#1e90ff"/>
<rect x="1091" y="638" width="1" height="1" fill="#1e90ff"/>
<rect x="53" y="597" width="3" height="1" fill="#1e90ff"/>
<rect x="143" y="597" width="1" height="1" fill="#1e90ff"/>
<rect x="151" y="597" width="2" height="1" fill="#1e90ff"/>
<rect x="155" y="597" width="4" height="1" fill="#1e90ff"/>
<rect x="165" y="597" width="6" height="1" fill="#1e90ff"/>
<rect x="181" y="597" width="3" height="1" fill="#1e90ff"/>
<rect x="186" y="597" width="1" height="1" fill="#1e90ff"/>
<rect x="204" y="597" width="1" height="1" fill="#1e90ff"/>
<rect x="326" y="597" width="1" height="1" fill="#1e90ff"/>
<rect x="404" y="597" width="1" height="1" fill="#1e90ff"/>
<rect x="470" y="597" width="1" height="1" fill="#1e90ff"/>
<rect x="476" y="597" width="1" height="1" fill="#1e90ff"/>
<rect x="341" y="581" width="1" height="1" fill="#1e90ff"/>
<rect x="347" y="581" width="1" height="1" fill="#1e90ff"/>
<rect x="383" y="581" width="2" height="1" fill="#1e90ff"/>
<rect x="386" y="581" width="1" height="1" fill="#1e90ff"/>
<rect x="506" y="626" width="1" height="1" fill="#1e90ff"/>
<rect x="743" y="626" width="2" height="1" fill="#1e90ff"/>
<rect x="746" y="626" width="1" height="1" fill="#1e90ff"/>
<rect x="763" y="626" width="2" height="1" fill="#1e90ff"/>
<rect x="792" y="626" width="2" height="1" fill="#1e90ff"/>
<rect x="939" y="626" width="2" height="1" fill="#1e90ff"/>
<rect x="947" y="626" width="1" height="1" fill="#1e90ff"/>
<rect x="995" y="626" width="1" height="1" fill="#1e90ff"/>
<rect x="1019" y="646" width="4" height="1" fill="#1e90ff"/>
<rect x="1053" y="646" width="1" height="1" fill="#1e90ff"/>
<rect x="1097" y="646" width="2" height="1" fill="#1e90ff"/>
<rect x="1115" y="646" width="1" height="1" fill="#1e90ff"/>
<rect x="1129" y="646" width="4" height="1" fill="#1e90ff"/>
<rect x="1151" y="646" width="3" height="1" fill="#1e90ff"/>
<rect x="1042" y="648" width="2" height="1" fill="#1e90ff"/>
<rect x="1051" y="648" width="1" height="1" fill="#1e90ff"/>
<rect x="1117" y="648" width="1" height="1" fill="#1e90ff"/>
<rect x="1127" y="648" width="1" height="1" fill="#1e90ff"/>
<rect x="1141" y="648" width="6" height="1" fill="#1e90ff"/>
<rect x="44" y="605" width="1" height="1" fill="#1e90ff"/>
<rect x="208" y="605" width="1" height="1" fill="#1e90ff"/>
<rect x="324" y="605" width="1" height="1" fill="#1e90ff"/>
<rect x="420" y="605" width="2" height="1" fill="#1e90ff"/>
<rect x="468" y="605" width="1" height="1" fill="#1e90ff"/>
<rect x="480" y="605" width="1" height="1" fill="#1e90ff"/>
<rect x="869" y="605" width="1" height="1" fill="#1e90ff"/>
<rect x="890" y="605" width="2" height="1" fill="#1e90ff"/>
<rect x="47" y="601" width="1" height="1" fill="#1e90ff"/>
<rect x="145" y="601" width="1" height="1" fill="#1e90ff"/>
<rect x="206" y="601" width="1" height="1" fill="#1e90ff"/>
<rect x="325" y="601" width="1" height="1" fill="#1e90ff"/>
<rect x="407" y="601" width="1" height="1" fill="#1e90ff"/>
<rect x="469" y="601" width="1" height="1" fill="#1e90ff"/>
<rect x="478" y="601" width="1" height="1" fill="#1e90ff"/>
<rect x="873" y="601" width="2" height="1" fill="#1e90ff"/>
<rect x="49" y="599" width="2" height="1" fill="#1e90ff"/>
<rect x="144" y="599" width="1" height="1" fill="#1e90ff"/>
<rect x="148" y="599" width="1" height="1" fill="#1e90ff"/>
<rect x="205" y="599" width="1" height="1" fill="#1e90ff"/>
<rect x="326" y="599" width="1" height="1" fill="#1e90ff"/>
<rect x="405" y="599" width="1" height="1" fill="#1e90ff"/>
<rect x="470" y="599" width="1" height="1" fill="#1e90ff"/>
<rect x="477" y="599" width="1" height="1" fill="#1e90ff"/>
<rect x="664" y="639" width="3" height="1" fill="#1e90ff"/>
<rect x="1007" y="639" width="2" height="1" fill="#1e90ff"/>
<rect x="1057" y="639" width="2" height="1" fill="#1e90ff"/>
<rect x="1091" y="639" width="1" height="1" fill="#1e90ff"/>
<rect x="95" y="590" width="2" height="1" fill="#1e90ff"/>
<rect x="140" y="590" width="1" height="1" fill="#1e90ff"/>
<rect x="328" y="590" width="1" height="1" fill="#1e90ff"/>
<rect x="355" y="590" width="2" height="1" fill="#1e90ff"/>
<rect x="372" y="590" width="1" height="1" fill="#1e90ff"/>
<rect x="396" y="590" width="1" height="1" fill="#1e90ff"/>
<rect x="473" y="590" width="1" height="1" fill="#1e90ff"/>
<rect x="1044" y="649" width="1" height="1" fill="#1e90ff"/>
<rect x="1051" y="649" width="1" height="1" fill="#1e90ff"/>
<rect x="1117" y="649" width="1" height="1" fill="#1e90ff"/>
<rect x="1125" y="649" width="2" height="1" fill="#1e90ff"/>
<rect x="342" y="580" width="1" height="1" fill="#1e90ff"/>
<rect x="347" y="580" width="1" height="1" fill="#1e90ff"/>
<rect x="385" y="580" width="1" height="1" fill="#1e90ff"/>
</g>
<rect x="0" y="29" width="1207" height="1" fill="#000"/>
<rect x="0" y="380" width="1207" height="1" fill="#000"/>
<rect x="0" y="29" width="1" height="352" fill="#000"/>
<rect x="1206" y="29" width="1" height="352" fill="#000"/>
<rect x="0" y="382" width="1207" height="1" fill="#000"/>
<rect x="0" y="548" width="1207" height="1" fill="#000"/>
<rect x="0" y="382" width="1" height="167" fill="#000"/>
<rect x="1206" y="382" width="1" height="167" fill="#000"/>
<rect x="0" y="550" width="1207" height="1" fill="#000"/>
<rect x="0" y="674" width="1207" height="1" fill="#000"/>
<rect x="0" y="550" width="1" height="125" fill="#000"/>
<rect x="1206" y="550" width="1" height="125" fill="#000"/>
<rect x="1206" y="352" width="1" height="1" fill="#c0c0c0"/>
<rect x="1207" y="47" width="2" height="1" fill="#000"/>
<text x="1211" y="50.5" font-size="9.5" fill="#000" stroke="#000" stroke-width="0.15" text-anchor="start" >65.590</text>
<rect x="1207" y="80" width="2" height="1" fill="#000"/>
<text x="1211" y="83.5" font-size="9.5" fill="#000" stroke="#000" stroke-width="0.15" text-anchor="start" >64.230</text>
<rect x="1207" y="113" width="2" height="1" fill="#000"/>
<text x="1211" y="116.5" font-size="9.5" fill="#000" stroke="#000" stroke-width="0.15" text-anchor="start" >62.870</text>
<rect x="1207" y="146" width="2" height="1" fill="#000"/>
<text x="1211" y="149.5" font-size="9.5" fill="#000" stroke="#000" stroke-width="0.15" text-anchor="start" >61.510</text>
<rect x="1207" y="179" width="2" height="1" fill="#000"/>
<text x="1211" y="182.5" font-size="9.5" fill="#000" stroke="#000" stroke-width="0.15" text-anchor="start" >60.110</text>
<rect x="1207" y="212" width="2" height="1" fill="#000"/>
<text x="1211" y="215.5" font-size="9.5" fill="#000" stroke="#000" stroke-width="0.15" text-anchor="start" >58.750</text>
<rect x="1207" y="245" width="2" height="1" fill="#000"/>
<text x="1211" y="248.5" font-size="9.5" fill="#000" stroke="#000" stroke-width="0.15" text-anchor="start" >57.390</text>
<rect x="1207" y="279" width="2" height="1" fill="#000"/>
<text x="1211" y="282.5" font-size="9.5" fill="#000" stroke="#000" stroke-width="0.15" text-anchor="start" >55.990</text>
<rect x="1207" y="312" width="2" height="1" fill="#000"/>
<text x="1211" y="315.5" font-size="9.5" fill="#000" stroke="#000" stroke-width="0.15" text-anchor="start" >54.630</text>
<rect x="1207" y="345" width="2" height="1" fill="#000"/>
<text x="1211" y="348.5" font-size="9.5" fill="#000" stroke="#000" stroke-width="0.15" text-anchor="start" >53.270</text>
<rect x="1207" y="377" width="2" height="1" fill="#000"/>
<text x="1211" y="380.5" font-size="9.5" fill="#000" stroke="#000" stroke-width="0.15" text-anchor="start" >51.910</text>
<rect x="1209" y="136" width="34" height="11" fill="#ff0000"/>
<text x="1211" y="144.5" font-size="9.5" fill="#fff" stroke="#fff" stroke-width="0.15" text-anchor="start" >61.643</text>
<rect x="1209" y="200" width="34" height="11" fill="#ff0000"/>
<text x="1211" y="208.5" font-size="9.5" fill="#fff" stroke="#fff" stroke-width="0.15" text-anchor="start" >59.000</text>
<rect x="1209" y="248" width="34" height="11" fill="#ff0000"/>
<text x="1211" y="256.5" font-size="9.5" fill="#fff" stroke="#fff" stroke-width="0.15" text-anchor="start" >57.000</text>
<rect x="1209" y="296" width="34" height="11" fill="#00ff7f"/>
<text x="1211" y="304.5" font-size="9.5" fill="#fff" stroke="#fff" stroke-width="0.15" text-anchor="start" >55.000</text>
<rect x="1209" y="347" width="34" height="11" fill="#000"/>
<text x="1211" y="355.5" font-size="9.5" fill="#fff" stroke="#fff" stroke-width="0.15" text-anchor="start" >52.950</text>
<rect x="1207" y="384" width="1" height="1" fill="#000"/>
<text x="1210" y="392.5" font-size="9.5" fill="#000" stroke="#000" stroke-width="0.15" text-anchor="start" >0.7983</text>
<rect x="1207" y="443" width="2" height="1" fill="#000"/>
<text x="1210" y="446.5" font-size="9.5" fill="#000" stroke="#000" stroke-width="0.15" text-anchor="start" >0.00</text>
<rect x="1207" y="547" width="1" height="1" fill="#000"/>
<text x="1210" y="544.5" font-size="9.5" fill="#000" stroke="#000" stroke-width="0.15" text-anchor="start" >-1.3996</text>
<rect x="1207" y="552" width="1" height="1" fill="#000"/>
<text x="1211" y="560.5" font-size="9.5" fill="#000" stroke="#000" stroke-width="0.15" text-anchor="start" >100</text>
<rect x="1207" y="588" width="2" height="1" fill="#000"/>
<text x="1209" y="591.5" font-size="9.5" fill="#000" stroke="#000" stroke-width="0.15" text-anchor="start" >70</text>
<rect x="1207" y="637" width="2" height="1" fill="#000"/>
<text x="1209" y="640.5" font-size="9.5" fill="#000" stroke="#000" stroke-width="0.15" text-anchor="start" >30</text>
<rect x="1207" y="673" width="1" height="1" fill="#000"/>
<text x="1210" y="670.5" font-size="9.5" fill="#000" stroke="#000" stroke-width="0.15" text-anchor="start" >0</text>
<path d="M4 36 L11 36 L7.5 40 Z" fill="#000"/>
<text x="15" y="41" font-size="9.5" fill="#000" stroke="#000" stroke-width="0.15" text-anchor="start" >USOil-,H4&#160;&#160;52.940 52.960 52.930 52.950</text>
<text x="4" y="395" font-size="9.5" fill="#000" stroke="#000" stroke-width="0.15" text-anchor="start" >MACD(12,26,9) -1.1600 -1.2254</text>
<text x="4" y="563" font-size="9.5" fill="#000" stroke="#000" stroke-width="0.15" text-anchor="start" >RSI(14) 27.6671</text>
<rect x="1" y="675" width="1" height="3" fill="#000"/>
<text x="0" y="687" font-size="9.5" fill="#000" stroke="#000" stroke-width="0.15" text-anchor="start" >23 Dec 2019</text>
<rect x="65" y="675" width="1" height="3" fill="#000"/>
<text x="64" y="687" font-size="9.5" fill="#000" stroke="#000" stroke-width="0.15" text-anchor="start" >25 Dec 23:00</text>
<rect x="129" y="675" width="1" height="3" fill="#000"/>
<text x="128" y="687" font-size="9.5" fill="#000" stroke="#000" stroke-width="0.15" text-anchor="start" >27 Dec 04:00</text>
<rect x="193" y="675" width="1" height="3" fill="#000"/>
<text x="192" y="687" font-size="9.5" fill="#000" stroke="#000" stroke-width="0.15" text-anchor="start" >30 Dec 08:00</text>
<rect x="257" y="675" width="1" height="3" fill="#000"/>
<text x="256" y="687" font-size="9.5" fill="#000" stroke="#000" stroke-width="0.15" text-anchor="start" >31 Dec 16:00</text>
<rect x="321" y="675" width="1" height="3" fill="#000"/>
<text x="320" y="687" font-size="9.5" fill="#000" stroke="#000" stroke-width="0.15" text-anchor="start" >2 Jan 20:00</text>
<rect x="385" y="675" width="1" height="3" fill="#000"/>
<text x="384" y="687" font-size="9.5" fill="#000" stroke="#000" stroke-width="0.15" text-anchor="start" >6 Jan 00:00</text>
<rect x="449" y="675" width="1" height="3" fill="#000"/>
<text x="448" y="687" font-size="9.5" fill="#000" stroke="#000" stroke-width="0.15" text-anchor="start" >7 Jan 08:00</text>
<rect x="513" y="675" width="1" height="3" fill="#000"/>
<text x="512" y="687" font-size="9.5" fill="#000" stroke="#000" stroke-width="0.15" text-anchor="start" >8 Jan 16:00</text>
<rect x="577" y="675" width="1" height="3" fill="#000"/>
<text x="576" y="687" font-size="9.5" fill="#000" stroke="#000" stroke-width="0.15" text-anchor="start" >10 Jan 00:00</text>
<rect x="641" y="675" width="1" height="3" fill="#000"/>
<text x="640" y="687" font-size="9.5" fill="#000" stroke="#000" stroke-width="0.15" text-anchor="start" >13 Jan 04:00</text>
<rect x="705" y="675" width="1" height="3" fill="#000"/>
<text x="704" y="687" font-size="9.5" fill="#000" stroke="#000" stroke-width="0.15" text-anchor="start" >14 Jan 12:00</text>
<rect x="769" y="675" width="1" height="3" fill="#000"/>
<text x="768" y="687" font-size="9.5" fill="#000" stroke="#000" stroke-width="0.15" text-anchor="start" >15 Jan 23:00</text>
<rect x="833" y="675" width="1" height="3" fill="#000"/>
<text x="832" y="687" font-size="9.5" fill="#000" stroke="#000" stroke-width="0.15" text-anchor="start" >17 Jan 04:00</text>
<rect x="897" y="675" width="1" height="3" fill="#000"/>
<text x="896" y="687" font-size="9.5" fill="#000" stroke="#000" stroke-width="0.15" text-anchor="start" >20 Jan 08:00</text>
<rect x="961" y="675" width="1" height="3" fill="#000"/>
<text x="960" y="687" font-size="9.5" fill="#000" stroke="#000" stroke-width="0.15" text-anchor="start" >21 Jan 16:00</text>
<rect x="1025" y="675" width="1" height="3" fill="#000"/>
<text x="1024" y="687" font-size="9.5" fill="#000" stroke="#000" stroke-width="0.15" text-anchor="start" >23 Jan 00:00</text>
<rect x="1089" y="675" width="1" height="3" fill="#000"/>
<text x="1088" y="687" font-size="9.5" fill="#000" stroke="#000" stroke-width="0.15" text-anchor="start" >24 Jan 08:00</text>
<rect x="1153" y="675" width="1" height="3" fill="#000"/>
<text x="1152" y="687" font-size="9.5" fill="#000" stroke="#000" stroke-width="0.15" text-anchor="start" >27 Jan 12:00</text>
<text x="740" y="105" font-size="35.5" fill="#ff0000" font-family="'DejaVu Sans', 'Noto Sans CJK SC', sans-serif">多空转折点55</text>
</svg>
</body></html>
